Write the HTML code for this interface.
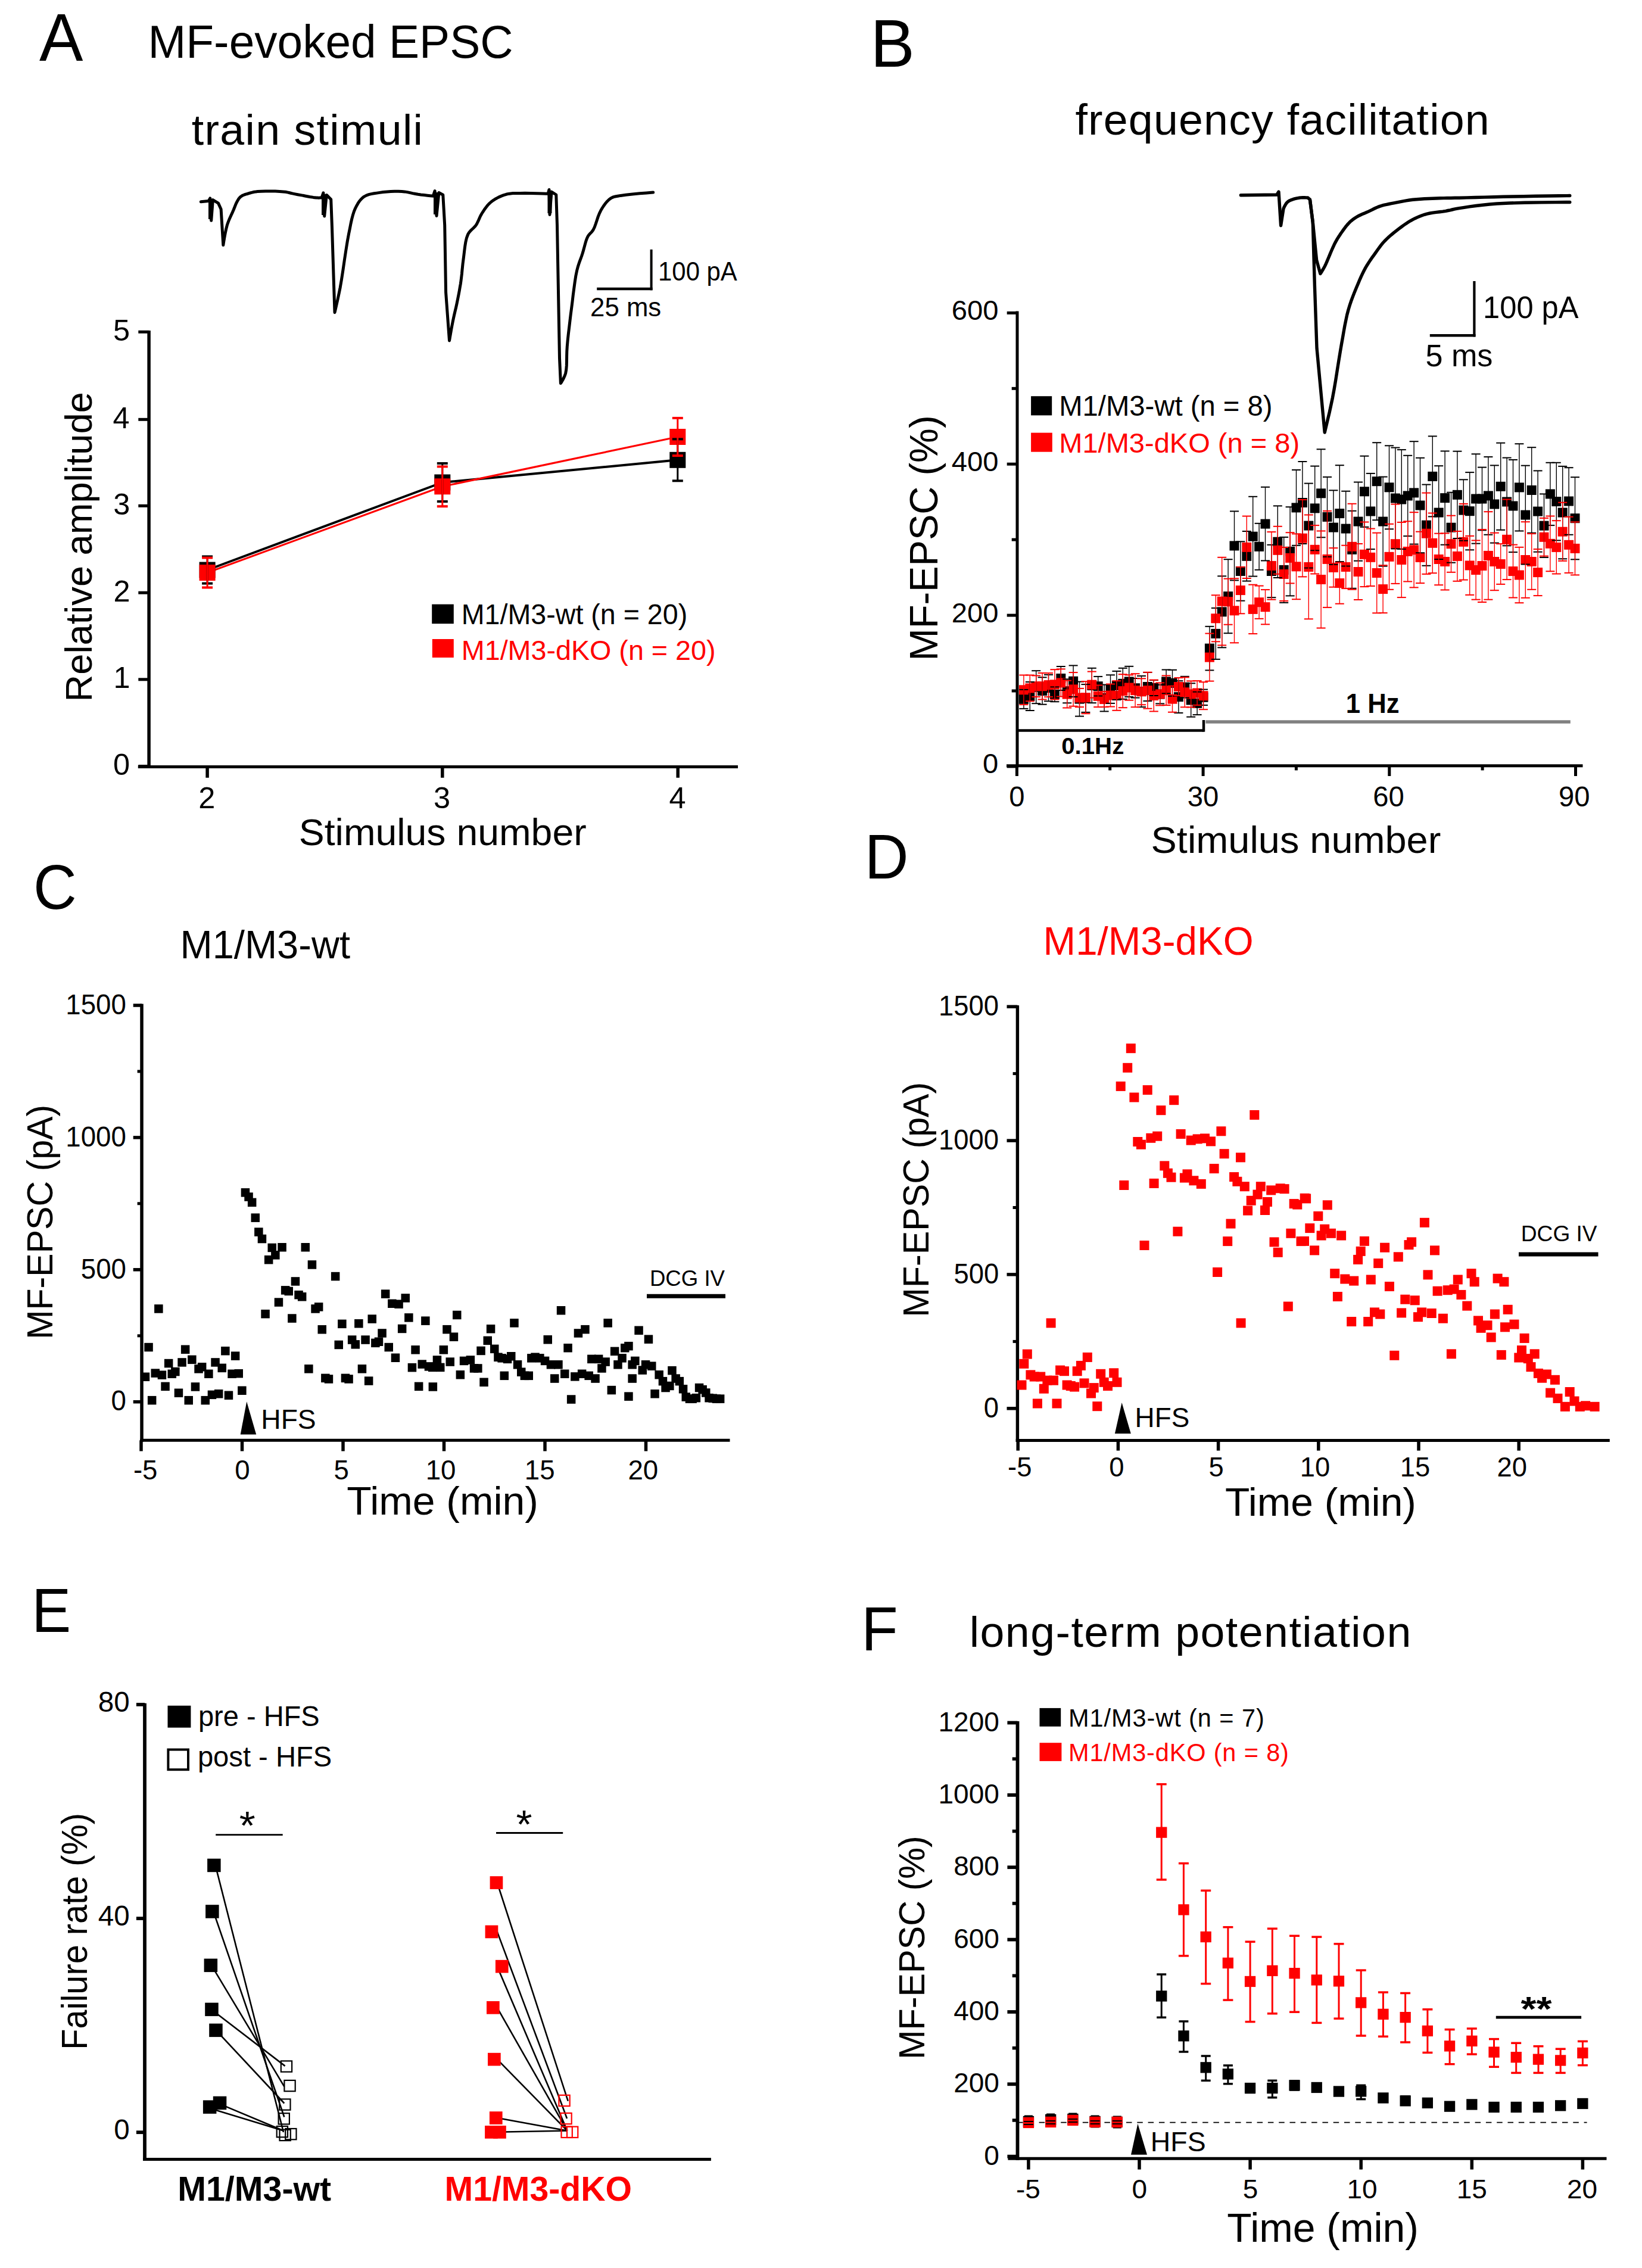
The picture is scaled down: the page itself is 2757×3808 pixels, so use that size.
<!DOCTYPE html>
<html><head><meta charset="utf-8"><style>
html,body{margin:0;padding:0;background:#fff;}
svg{display:block;}
text{font-family:"Liberation Sans",sans-serif;}
</style></head><body>
<svg width="2757" height="3808" viewBox="0 0 2757 3808">
<rect width="2757" height="3808" fill="#fff"/>
<text transform="translate(66.1,101.8) scale(1,1.025)" font-size="110.15" font-weight="normal" fill="#000">A</text>
<text transform="translate(248.5,96.7) scale(1,1.004)" font-size="76.62" font-weight="normal" fill="#000">MF-evoked EPSC</text>
<text transform="translate(321.7,242.8) scale(1,0.989)" font-size="73.50" font-weight="normal" fill="#000" letter-spacing="1.39">train stimuli</text>
<path d="M337.3,338.7 L350.1,337.5 L352.8,332.9 L354.7,370.3 L357.4,335.6 L366.5,341.1 L371.1,351.2 L374.8,411.5 L375.1,409.7 L375.8,405.1 L376.9,398.7 L378.2,391.5 L379.7,384.4 L381.2,378.6 L382.5,374.6 L383.9,370.9 L385.4,367.3 L387.0,363.8 L388.6,360.3 L390.3,356.6 L392.2,352.2 L394.1,347.5 L396.0,342.7 L398.2,338.2 L400.5,334.2 L403.1,331.1 L405.3,329.4 L407.6,328.0 L410.1,327.0 L412.6,326.2 L415.2,325.5 L417.7,324.7 L420.0,324.0 L422.2,323.4 L424.5,322.8 L426.8,322.3 L429.4,321.9 L432.3,321.6 L438.5,321.2 L445.9,320.9 L454.0,320.9 L462.1,321.1 L469.7,321.4 L476.2,321.9 L479.6,322.3 L482.6,322.9 L485.4,323.5 L488.2,324.2 L491.1,324.9 L494.4,325.6 L500.0,326.7 L506.6,327.9 L513.4,329.2 L520.1,330.5 L526.2,331.4 L531.0,332.0 L533.1,332.1 L535.1,332.2 L537.1,332.1 L538.6,332.1 L539.7,332.0 L540.1,332.0 L542.9,323.8 L544.7,363.0 L548.3,327.4 L555.7,334.7 L557.5,382.2 L562.0,524.7 L562.5,522.8 L563.7,517.5 L565.4,510.0 L567.4,501.0 L569.4,491.6 L571.2,482.7 L573.5,469.1 L575.9,453.6 L578.3,437.0 L580.8,420.5 L583.3,405.0 L585.8,391.4 L587.5,383.2 L589.0,375.4 L590.6,368.1 L592.4,361.3 L594.4,355.0 L596.8,349.3 L598.8,345.4 L600.9,341.7 L603.1,338.3 L605.6,335.2 L608.3,332.5 L611.4,330.1 L615.1,328.1 L619.1,326.7 L623.4,325.6 L628.0,324.8 L632.7,324.1 L637.5,323.4 L643.3,322.6 L649.6,322.0 L656.0,321.5 L662.4,321.2 L668.7,321.2 L674.6,321.4 L679.4,321.9 L684.1,322.6 L688.6,323.6 L693.0,324.6 L697.5,325.5 L701.9,326.3 L706.8,327.0 L712.3,327.6 L717.8,328.2 L722.5,328.7 L725.9,329.1 L727.2,329.2 L730.1,320.5 L733.0,362.4 L736.9,323.4 L743.8,327.3 L746.7,378.0 L748.6,491.0 L754.5,571.9 L754.8,570.3 L755.5,566.0 L756.6,559.9 L757.8,552.9 L759.1,545.9 L760.3,539.7 L761.5,533.9 L762.8,528.1 L764.2,522.2 L765.6,516.3 L766.9,510.4 L768.1,504.6 L769.2,499.0 L770.3,493.5 L771.3,488.1 L772.2,482.6 L773.2,477.1 L774.0,471.5 L774.7,465.8 L775.4,460.0 L775.9,454.2 L776.5,448.4 L777.1,442.5 L777.9,436.4 L778.8,429.2 L779.7,421.5 L780.7,413.7 L781.9,406.2 L783.5,399.3 L785.7,393.5 L787.6,390.3 L789.9,387.6 L792.3,385.3 L794.8,383.0 L797.2,380.6 L799.3,378.0 L801.1,374.9 L802.7,371.7 L804.1,368.4 L805.6,365.0 L807.2,361.7 L809.0,358.5 L811.2,355.1 L813.5,351.6 L816.0,348.2 L818.6,344.9 L821.5,341.8 L824.6,339.0 L828.3,336.3 L832.4,333.7 L836.7,331.4 L841.2,329.4 L845.6,327.7 L850.0,326.3 L853.8,325.4 L857.5,324.9 L861.2,324.6 L865.0,324.5 L869.0,324.5 L873.4,324.4 L881.3,324.3 L891.2,324.5 L901.6,324.7 L910.9,325.0 L917.5,325.2 L920.1,325.3 L920.1,325.3 L922.0,318.5 L923.0,360.4 L926.0,322.0 L933.8,327.0 L935.5,378.0 L939.5,601.6 L941.4,643.6 L941.9,642.9 L943.1,640.9 L944.8,638.0 L946.6,634.5 L948.3,630.7 L949.6,627.0 L950.7,620.9 L951.3,613.9 L951.5,606.2 L951.6,598.1 L951.8,589.8 L952.3,581.5 L953.2,571.5 L954.3,561.0 L955.6,550.2 L956.9,539.2 L958.2,528.3 L959.6,517.5 L961.0,506.5 L962.3,495.2 L963.8,483.8 L965.3,472.9 L966.9,462.7 L968.8,453.6 L970.2,448.3 L971.7,443.5 L973.2,439.1 L974.8,434.8 L976.4,430.5 L977.9,426.0 L979.4,421.0 L980.8,415.8 L982.2,410.6 L983.6,405.6 L985.2,401.0 L987.0,397.0 L988.4,394.8 L989.9,393.1 L991.4,391.5 L993.0,390.0 L994.5,388.2 L996.0,386.0 L998.2,381.5 L1000.2,376.0 L1002.2,370.0 L1004.2,363.9 L1006.5,358.1 L1009.0,353.0 L1011.4,349.0 L1013.9,345.2 L1016.6,341.5 L1019.4,338.2 L1022.4,335.3 L1025.4,333.0 L1027.9,331.6 L1030.3,330.6 L1032.9,330.0 L1035.6,329.5 L1038.6,329.0 L1042.0,328.4 L1050.5,327.2 L1061.9,325.9 L1074.2,324.8 L1085.4,323.9 L1093.5,323.2 L1096.7,323.0" fill="none" stroke="#000" stroke-width="5" stroke-linejoin="round" stroke-linecap="round" />
<line x1="353.5" y1="335.0" x2="353.5" y2="368.0" stroke="#000" stroke-width="7" />
<line x1="543.5" y1="326.0" x2="543.5" y2="361.0" stroke="#000" stroke-width="7" />
<line x1="731.5" y1="323.0" x2="731.5" y2="360.0" stroke="#000" stroke-width="7" />
<line x1="923.0" y1="321.0" x2="923.0" y2="358.0" stroke="#000" stroke-width="7" />
<line x1="1093.6" y1="418.9" x2="1093.6" y2="487.3" stroke="#000" stroke-width="4" />
<line x1="1002.2" y1="485.0" x2="1095.6" y2="485.0" stroke="#000" stroke-width="4.6" />
<text transform="translate(1105.1,471.2) scale(1,1.063)" font-size="41.87" font-weight="normal" fill="#000">100 pA</text>
<text transform="translate(991.1,531.2) scale(1,1.012)" font-size="43.75" font-weight="normal" fill="#000">25 ms</text>
<line x1="250.1" y1="555.0" x2="250.1" y2="1290.0" stroke="#000" stroke-width="5.5" />
<line x1="231.8" y1="1287.5" x2="1239.0" y2="1287.5" stroke="#000" stroke-width="5" />
<line x1="232.3" y1="557.3" x2="250.1" y2="557.3" stroke="#000" stroke-width="5" />
<text transform="translate(190.0,571.8) scale(1,1.000)" font-size="50.50" font-weight="normal" fill="#000">5</text>
<line x1="232.3" y1="704.3" x2="250.1" y2="704.3" stroke="#000" stroke-width="5" />
<text transform="translate(189.5,718.8) scale(1,1.000)" font-size="50.50" font-weight="normal" fill="#000">4</text>
<line x1="232.3" y1="849.3" x2="250.1" y2="849.3" stroke="#000" stroke-width="5" />
<text transform="translate(190.2,863.8) scale(1,1.000)" font-size="50.50" font-weight="normal" fill="#000">3</text>
<line x1="232.3" y1="995.2" x2="250.1" y2="995.2" stroke="#000" stroke-width="5" />
<text transform="translate(190.5,1009.7) scale(1,1.000)" font-size="50.50" font-weight="normal" fill="#000">2</text>
<line x1="232.3" y1="1140.8" x2="250.1" y2="1140.8" stroke="#000" stroke-width="5" />
<text transform="translate(190.5,1155.3) scale(1,1.000)" font-size="50.50" font-weight="normal" fill="#000">1</text>
<line x1="232.3" y1="1286.5" x2="250.1" y2="1286.5" stroke="#000" stroke-width="5" />
<text transform="translate(190.0,1301.0) scale(1,1.000)" font-size="50.50" font-weight="normal" fill="#000">0</text>
<line x1="348.1" y1="1287.5" x2="348.1" y2="1305.8" stroke="#000" stroke-width="5.5" />
<text transform="translate(333.3,1357.0) scale(1,1.000)" font-size="50.50" font-weight="normal" fill="#000">2</text>
<line x1="742.8" y1="1287.5" x2="742.8" y2="1305.8" stroke="#000" stroke-width="5.5" />
<text transform="translate(728.1,1357.0) scale(1,1.000)" font-size="50.50" font-weight="normal" fill="#000">3</text>
<line x1="1138.2" y1="1287.5" x2="1138.2" y2="1305.8" stroke="#000" stroke-width="5.5" />
<text transform="translate(1123.5,1357.0) scale(1,1.000)" font-size="50.50" font-weight="normal" fill="#000">4</text>
<text transform="translate(501.8,1418.7) scale(1,0.969)" font-size="64.35" font-weight="normal" fill="#000">Stimulus number</text>
<text transform="translate(153.7,1178.4) rotate(-90) scale(1,1.001)" font-size="63.25" font-weight="normal" fill="#000">Relative amplitude</text>
<path d="M348.1,957.0 L742.8,810.0 L1137.8,772.3" fill="none" stroke="#000" stroke-width="4" stroke-linejoin="round" stroke-linecap="round" />
<path d="M348.1,961.5 L742.8,816.8 L1137.8,733.5" fill="none" stroke="#ff0000" stroke-width="3.2" stroke-linejoin="round" stroke-linecap="round" />
<rect x="334.6" y="943.5" width="27.0" height="27.0" fill="#000"/>
<rect x="729.3" y="796.5" width="27.0" height="27.0" fill="#000"/>
<rect x="1124.3" y="758.8" width="27.0" height="27.0" fill="#000"/>
<rect x="334.6" y="948.0" width="27.0" height="27.0" fill="#ff0000"/>
<rect x="729.3" y="803.3" width="27.0" height="27.0" fill="#ff0000"/>
<rect x="1124.3" y="720.0" width="27.0" height="27.0" fill="#ff0000"/>
<line x1="348.1" y1="934.4" x2="348.1" y2="979.6" stroke="#000" stroke-width="3" />
<line x1="339.1" y1="934.4" x2="357.1" y2="934.4" stroke="#000" stroke-width="4" />
<line x1="339.1" y1="979.6" x2="357.1" y2="979.6" stroke="#000" stroke-width="4" />
<line x1="742.8" y1="778.0" x2="742.8" y2="842.0" stroke="#000" stroke-width="3" />
<line x1="733.8" y1="778.0" x2="751.8" y2="778.0" stroke="#000" stroke-width="4" />
<line x1="733.8" y1="842.0" x2="751.8" y2="842.0" stroke="#000" stroke-width="4" />
<line x1="1137.8" y1="737.3" x2="1137.8" y2="807.3" stroke="#000" stroke-width="3" />
<line x1="1128.8" y1="737.3" x2="1146.8" y2="737.3" stroke="#000" stroke-width="4" />
<line x1="1128.8" y1="807.3" x2="1146.8" y2="807.3" stroke="#000" stroke-width="4" />
<line x1="348.1" y1="936.5" x2="348.1" y2="986.5" stroke="#ff0000" stroke-width="3" />
<line x1="339.1" y1="936.5" x2="357.1" y2="936.5" stroke="#ff0000" stroke-width="4" />
<line x1="339.1" y1="986.5" x2="357.1" y2="986.5" stroke="#ff0000" stroke-width="4" />
<line x1="742.8" y1="783.4" x2="742.8" y2="850.2" stroke="#ff0000" stroke-width="3" />
<line x1="733.8" y1="783.4" x2="751.8" y2="783.4" stroke="#ff0000" stroke-width="4" />
<line x1="733.8" y1="850.2" x2="751.8" y2="850.2" stroke="#ff0000" stroke-width="4" />
<line x1="1137.8" y1="701.9" x2="1137.8" y2="765.1" stroke="#ff0000" stroke-width="3" />
<line x1="1128.8" y1="701.9" x2="1146.8" y2="701.9" stroke="#ff0000" stroke-width="4" />
<line x1="1128.8" y1="765.1" x2="1146.8" y2="765.1" stroke="#ff0000" stroke-width="4" />
<rect x="725.2" y="1014.6" width="36.6" height="32.6" fill="#000"/>
<text transform="translate(774.8,1048.1) scale(1,1.023)" font-size="46.62" font-weight="normal" fill="#000">M1/M3-wt (n = 20)</text>
<rect x="725.8" y="1073.0" width="36.0" height="31.1" fill="#ff0000"/>
<text transform="translate(774.8,1108.1) scale(1,0.993)" font-size="46.69" font-weight="normal" fill="#ff0000">M1/M3-dKO (n = 20)</text>
<text transform="translate(1461.6,112.1) scale(1,1.015)" font-size="111.40" font-weight="normal" fill="#000">B</text>
<text transform="translate(1805.5,225.6) scale(1,0.985)" font-size="73.50" font-weight="normal" fill="#000" letter-spacing="1.20">frequency facilitation</text>
<path d="M2083.4,327.8 L2143.8,327.0 L2147.0,322.0 L2150.6,378.7 L2155.0,350.4 L2155.3,349.8 L2156.0,348.1 L2157.2,345.8 L2158.6,343.2 L2160.2,340.9 L2162.0,339.0 L2164.5,337.3 L2167.5,335.9 L2170.8,334.7 L2174.2,333.7 L2177.6,332.9 L2180.8,332.3 L2183.8,331.9 L2187.1,331.8 L2190.4,331.8 L2193.2,331.9 L2195.2,332.0 L2196.0,332.0 L2196.0,332.0 L2199.5,335.3 L2204.3,373.3 L2210.6,436.7 L2216.9,459.6 L2217.3,459.0 L2218.4,457.3 L2219.9,454.8 L2221.6,452.0 L2223.3,449.0 L2224.8,446.2 L2226.4,442.8 L2228.0,439.1 L2229.6,435.3 L2231.2,431.4 L2232.8,427.6 L2234.3,424.0 L2235.6,421.0 L2236.9,418.0 L2238.2,415.1 L2239.5,412.3 L2240.8,409.4 L2242.3,406.6 L2244.0,403.6 L2245.7,400.7 L2247.5,397.8 L2249.4,394.9 L2251.3,392.0 L2253.3,389.2 L2255.3,386.4 L2257.3,383.6 L2259.4,380.8 L2261.6,378.1 L2263.8,375.6 L2266.0,373.3 L2268.0,371.4 L2270.0,369.8 L2272.0,368.2 L2274.1,366.7 L2276.4,365.2 L2278.7,363.8 L2281.6,362.2 L2284.7,360.7 L2287.9,359.3 L2291.2,357.9 L2294.5,356.5 L2297.7,355.1 L2300.8,353.6 L2303.9,352.1 L2307.0,350.5 L2310.2,349.0 L2313.4,347.6 L2316.7,346.4 L2320.4,345.2 L2324.2,344.2 L2328.1,343.4 L2332.1,342.5 L2336.2,341.7 L2340.4,340.9 L2345.4,339.9 L2350.5,338.9 L2355.7,337.8 L2361.1,336.9 L2366.5,336.0 L2372.1,335.3 L2378.4,334.7 L2385.0,334.2 L2391.6,333.8 L2398.4,333.5 L2405.1,333.2 L2411.7,333.0 L2417.9,332.8 L2423.9,332.6 L2429.9,332.5 L2436.1,332.5 L2442.7,332.3 L2450.0,332.2 L2462.8,331.9 L2477.1,331.5 L2492.5,331.1 L2508.4,330.7 L2524.4,330.3 L2540.0,330.0 L2558.0,329.7 L2578.8,329.3 L2599.7,329.0 L2617.9,328.7 L2630.9,328.6 L2635.8,328.5" fill="none" stroke="#000" stroke-width="5.4" stroke-linejoin="round" stroke-linecap="round" />
<path d="M2199.5,335.3 L2204.3,373.3 L2207.4,480.0 L2211.0,584.5 L2224.2,726.0 L2224.9,723.2 L2226.7,715.7 L2229.2,704.9 L2232.2,692.4 L2235.0,679.4 L2237.5,667.6 L2240.1,653.4 L2242.7,638.1 L2245.2,622.2 L2247.7,606.4 L2250.2,591.1 L2252.6,577.0 L2254.5,566.6 L2256.2,556.6 L2257.9,547.0 L2259.8,537.7 L2261.7,528.7 L2264.0,520.0 L2266.2,512.8 L2268.5,505.8 L2271.0,499.1 L2273.5,492.6 L2276.1,486.2 L2278.7,480.0 L2281.0,474.6 L2283.2,469.3 L2285.5,464.1 L2287.9,459.1 L2290.3,454.2 L2292.9,449.4 L2295.4,445.2 L2298.0,441.1 L2300.6,437.1 L2303.3,433.2 L2306.1,429.4 L2308.8,425.6 L2311.3,422.0 L2313.8,418.5 L2316.3,415.1 L2318.9,411.7 L2321.6,408.3 L2324.6,405.0 L2328.2,401.4 L2332.0,397.8 L2336.0,394.3 L2340.1,390.9 L2344.3,387.6 L2348.4,384.4 L2352.3,381.5 L2356.2,378.6 L2360.1,375.9 L2364.1,373.3 L2368.1,370.8 L2372.1,368.6 L2375.9,366.7 L2379.8,364.9 L2383.7,363.2 L2387.6,361.7 L2391.7,360.3 L2395.9,359.1 L2400.9,358.0 L2406.2,357.1 L2411.7,356.4 L2417.2,355.7 L2422.5,355.1 L2427.5,354.3 L2431.3,353.5 L2434.9,352.8 L2438.3,352.0 L2441.8,351.2 L2445.6,350.4 L2450.0,349.6 L2458.4,348.3 L2467.8,346.9 L2478.2,345.5 L2489.3,344.2 L2500.9,343.0 L2513.0,342.0 L2533.9,341.0 L2560.0,340.3 L2587.2,339.9 L2611.5,339.6 L2629.1,339.5 L2635.8,339.5" fill="none" stroke="#000" stroke-width="5.4" stroke-linejoin="round" stroke-linecap="round" />
<line x1="2475.4" y1="472.0" x2="2475.4" y2="565.4" stroke="#000" stroke-width="4.2" />
<line x1="2400.8" y1="563.2" x2="2477.5" y2="563.2" stroke="#000" stroke-width="4.4" />
<text transform="translate(2490.1,534.2) scale(1,1.022)" font-size="50.63" font-weight="normal" fill="#000">100 pA</text>
<text transform="translate(2393.4,615.1) scale(1,0.984)" font-size="52.15" font-weight="normal" fill="#000">5 ms</text>
<line x1="1708.0" y1="522.5" x2="1708.0" y2="1288.3" stroke="#000" stroke-width="5" />
<line x1="1690.0" y1="1285.8" x2="2657.5" y2="1285.8" stroke="#000" stroke-width="5" />
<line x1="1690.7" y1="1286.9" x2="1708.0" y2="1286.9" stroke="#000" stroke-width="5" />
<text transform="translate(1650.1,1298.4) scale(1,0.999)" font-size="47.20" font-weight="normal" fill="#000">0</text>
<line x1="1690.7" y1="1033.1" x2="1708.0" y2="1033.1" stroke="#000" stroke-width="5" />
<text transform="translate(1597.7,1044.6) scale(1,0.999)" font-size="47.20" font-weight="normal" fill="#000">200</text>
<line x1="1690.7" y1="779.2" x2="1708.0" y2="779.2" stroke="#000" stroke-width="5" />
<text transform="translate(1597.7,790.7) scale(1,0.999)" font-size="47.20" font-weight="normal" fill="#000">400</text>
<line x1="1690.7" y1="525.4" x2="1708.0" y2="525.4" stroke="#000" stroke-width="5" />
<text transform="translate(1597.7,536.9) scale(1,0.999)" font-size="47.20" font-weight="normal" fill="#000">600</text>
<line x1="1698.7" y1="1160.0" x2="1708.0" y2="1160.0" stroke="#000" stroke-width="5" />
<line x1="1698.7" y1="906.1" x2="1708.0" y2="906.1" stroke="#000" stroke-width="5" />
<line x1="1698.7" y1="652.3" x2="1708.0" y2="652.3" stroke="#000" stroke-width="5" />
<line x1="1707.4" y1="1285.8" x2="1707.4" y2="1303.0" stroke="#000" stroke-width="5" />
<text transform="translate(1694.3,1354.2) scale(1,1.000)" font-size="47.20" font-weight="normal" fill="#000">0</text>
<line x1="2020.1" y1="1285.8" x2="2020.1" y2="1303.0" stroke="#000" stroke-width="5" />
<text transform="translate(1993.8,1354.2) scale(1,1.000)" font-size="47.20" font-weight="normal" fill="#000">30</text>
<line x1="2332.8" y1="1285.8" x2="2332.8" y2="1303.0" stroke="#000" stroke-width="5" />
<text transform="translate(2305.3,1354.2) scale(1,1.000)" font-size="47.20" font-weight="normal" fill="#000">60</text>
<line x1="2645.5" y1="1285.8" x2="2645.5" y2="1303.0" stroke="#000" stroke-width="5" />
<text transform="translate(2616.9,1354.2) scale(1,1.000)" font-size="47.20" font-weight="normal" fill="#000">90</text>
<line x1="1863.7" y1="1285.8" x2="1863.7" y2="1293.4" stroke="#000" stroke-width="5" />
<line x1="2176.4" y1="1285.8" x2="2176.4" y2="1293.4" stroke="#000" stroke-width="5" />
<line x1="2489.1" y1="1285.8" x2="2489.1" y2="1293.4" stroke="#000" stroke-width="5" />
<text transform="translate(1932.6,1432.2) scale(1,0.959)" font-size="64.87" font-weight="normal" fill="#000">Stimulus number</text>
<text transform="translate(1574.3,1109.6) rotate(-90) scale(1,1.028)" font-size="65.11" font-weight="normal" fill="#000">MF-EPSC (%)</text>
<line x1="1708.0" y1="1226.5" x2="2021.0" y2="1226.5" stroke="#000" stroke-width="4.5" />
<line x1="2021.0" y1="1209.0" x2="2021.0" y2="1228.7" stroke="#000" stroke-width="4.5" />
<text transform="translate(1782.2,1266.0) scale(1,0.983)" font-size="40.24" font-weight="bold" fill="#000">0.1Hz</text>
<line x1="2024.4" y1="1211.9" x2="2636.8" y2="1211.9" stroke="#808080" stroke-width="5.5" />
<text transform="translate(2259.8,1196.6) scale(1,1.045)" font-size="43.68" font-weight="bold" fill="#000">1 Hz</text>
<rect x="1710.9" y="1165.9" width="16.0" height="16.0" fill="#000"/>
<rect x="1721.3" y="1161.0" width="16.0" height="16.0" fill="#000"/>
<rect x="1731.7" y="1145.7" width="16.0" height="16.0" fill="#000"/>
<rect x="1742.1" y="1152.0" width="16.0" height="16.0" fill="#000"/>
<rect x="1752.5" y="1147.1" width="16.0" height="16.0" fill="#000"/>
<rect x="1762.9" y="1157.8" width="16.0" height="16.0" fill="#000"/>
<rect x="1773.3" y="1131.0" width="16.0" height="16.0" fill="#000"/>
<rect x="1783.7" y="1152.3" width="16.0" height="16.0" fill="#000"/>
<rect x="1794.1" y="1135.7" width="16.0" height="16.0" fill="#000"/>
<rect x="1804.5" y="1165.6" width="16.0" height="16.0" fill="#000"/>
<rect x="1814.9" y="1164.5" width="16.0" height="16.0" fill="#000"/>
<rect x="1825.3" y="1143.0" width="16.0" height="16.0" fill="#000"/>
<rect x="1835.7" y="1144.2" width="16.0" height="16.0" fill="#000"/>
<rect x="1846.1" y="1164.0" width="16.0" height="16.0" fill="#000"/>
<rect x="1856.5" y="1149.1" width="16.0" height="16.0" fill="#000"/>
<rect x="1866.9" y="1142.9" width="16.0" height="16.0" fill="#000"/>
<rect x="1877.3" y="1139.8" width="16.0" height="16.0" fill="#000"/>
<rect x="1887.7" y="1136.4" width="16.0" height="16.0" fill="#000"/>
<rect x="1898.1" y="1147.3" width="16.0" height="16.0" fill="#000"/>
<rect x="1908.5" y="1153.0" width="16.0" height="16.0" fill="#000"/>
<rect x="1918.9" y="1145.0" width="16.0" height="16.0" fill="#000"/>
<rect x="1929.3" y="1147.0" width="16.0" height="16.0" fill="#000"/>
<rect x="1939.7" y="1157.6" width="16.0" height="16.0" fill="#000"/>
<rect x="1950.1" y="1136.4" width="16.0" height="16.0" fill="#000"/>
<rect x="1960.5" y="1138.8" width="16.0" height="16.0" fill="#000"/>
<rect x="1970.9" y="1162.1" width="16.0" height="16.0" fill="#000"/>
<rect x="1981.3" y="1145.7" width="16.0" height="16.0" fill="#000"/>
<rect x="1991.7" y="1167.5" width="16.0" height="16.0" fill="#000"/>
<rect x="2002.1" y="1172.9" width="16.0" height="16.0" fill="#000"/>
<rect x="2012.5" y="1162.8" width="16.0" height="16.0" fill="#000"/>
<rect x="2022.9" y="1080.6" width="16.0" height="16.0" fill="#000"/>
<rect x="2033.3" y="1055.9" width="16.0" height="16.0" fill="#000"/>
<rect x="2043.7" y="1019.3" width="16.0" height="16.0" fill="#000"/>
<rect x="2054.1" y="993.2" width="16.0" height="16.0" fill="#000"/>
<rect x="2064.5" y="908.4" width="16.0" height="16.0" fill="#000"/>
<rect x="2074.9" y="951.0" width="16.0" height="16.0" fill="#000"/>
<rect x="2085.3" y="925.8" width="16.0" height="16.0" fill="#000"/>
<rect x="2095.7" y="892.7" width="16.0" height="16.0" fill="#000"/>
<rect x="2106.1" y="909.8" width="16.0" height="16.0" fill="#000"/>
<rect x="2116.5" y="871.6" width="16.0" height="16.0" fill="#000"/>
<rect x="2126.9" y="951.0" width="16.0" height="16.0" fill="#000"/>
<rect x="2137.3" y="901.7" width="16.0" height="16.0" fill="#000"/>
<rect x="2147.7" y="948.9" width="16.0" height="16.0" fill="#000"/>
<rect x="2158.1" y="917.8" width="16.0" height="16.0" fill="#000"/>
<rect x="2168.5" y="844.4" width="16.0" height="16.0" fill="#000"/>
<rect x="2178.9" y="836.0" width="16.0" height="16.0" fill="#000"/>
<rect x="2189.3" y="874.6" width="16.0" height="16.0" fill="#000"/>
<rect x="2199.7" y="845.4" width="16.0" height="16.0" fill="#000"/>
<rect x="2210.1" y="820.3" width="16.0" height="16.0" fill="#000"/>
<rect x="2220.5" y="859.9" width="16.0" height="16.0" fill="#000"/>
<rect x="2230.9" y="877.6" width="16.0" height="16.0" fill="#000"/>
<rect x="2241.3" y="854.1" width="16.0" height="16.0" fill="#000"/>
<rect x="2251.7" y="879.6" width="16.0" height="16.0" fill="#000"/>
<rect x="2262.1" y="914.8" width="16.0" height="16.0" fill="#000"/>
<rect x="2272.5" y="867.6" width="16.0" height="16.0" fill="#000"/>
<rect x="2282.9" y="817.3" width="16.0" height="16.0" fill="#000"/>
<rect x="2293.3" y="850.5" width="16.0" height="16.0" fill="#000"/>
<rect x="2303.7" y="800.2" width="16.0" height="16.0" fill="#000"/>
<rect x="2314.1" y="867.6" width="16.0" height="16.0" fill="#000"/>
<rect x="2324.5" y="810.3" width="16.0" height="16.0" fill="#000"/>
<rect x="2334.9" y="828.5" width="16.0" height="16.0" fill="#000"/>
<rect x="2345.3" y="830.5" width="16.0" height="16.0" fill="#000"/>
<rect x="2355.7" y="824.4" width="16.0" height="16.0" fill="#000"/>
<rect x="2366.1" y="819.4" width="16.0" height="16.0" fill="#000"/>
<rect x="2376.5" y="840.5" width="16.0" height="16.0" fill="#000"/>
<rect x="2386.9" y="873.7" width="16.0" height="16.0" fill="#000"/>
<rect x="2397.3" y="791.9" width="16.0" height="16.0" fill="#000"/>
<rect x="2407.7" y="852.6" width="16.0" height="16.0" fill="#000"/>
<rect x="2418.1" y="828.1" width="16.0" height="16.0" fill="#000"/>
<rect x="2428.5" y="877.7" width="16.0" height="16.0" fill="#000"/>
<rect x="2438.9" y="822.8" width="16.0" height="16.0" fill="#000"/>
<rect x="2449.3" y="848.6" width="16.0" height="16.0" fill="#000"/>
<rect x="2459.7" y="850.2" width="16.0" height="16.0" fill="#000"/>
<rect x="2470.1" y="829.5" width="16.0" height="16.0" fill="#000"/>
<rect x="2480.5" y="829.5" width="16.0" height="16.0" fill="#000"/>
<rect x="2490.9" y="824.4" width="16.0" height="16.0" fill="#000"/>
<rect x="2501.3" y="838.5" width="16.0" height="16.0" fill="#000"/>
<rect x="2511.7" y="808.8" width="16.0" height="16.0" fill="#000"/>
<rect x="2522.1" y="834.5" width="16.0" height="16.0" fill="#000"/>
<rect x="2532.5" y="841.5" width="16.0" height="16.0" fill="#000"/>
<rect x="2542.9" y="810.4" width="16.0" height="16.0" fill="#000"/>
<rect x="2553.3" y="856.6" width="16.0" height="16.0" fill="#000"/>
<rect x="2563.7" y="815.0" width="16.0" height="16.0" fill="#000"/>
<rect x="2574.1" y="850.6" width="16.0" height="16.0" fill="#000"/>
<rect x="2584.5" y="874.7" width="16.0" height="16.0" fill="#000"/>
<rect x="2594.9" y="821.4" width="16.0" height="16.0" fill="#000"/>
<rect x="2605.3" y="834.1" width="16.0" height="16.0" fill="#000"/>
<rect x="2615.7" y="852.6" width="16.0" height="16.0" fill="#000"/>
<rect x="2626.1" y="833.5" width="16.0" height="16.0" fill="#000"/>
<rect x="2636.5" y="862.2" width="16.0" height="16.0" fill="#000"/>
<rect x="1710.9" y="1150.3" width="16.0" height="16.0" fill="#ff0000"/>
<rect x="1721.3" y="1147.4" width="16.0" height="16.0" fill="#ff0000"/>
<rect x="1731.7" y="1144.2" width="16.0" height="16.0" fill="#ff0000"/>
<rect x="1742.1" y="1144.2" width="16.0" height="16.0" fill="#ff0000"/>
<rect x="1752.5" y="1142.1" width="16.0" height="16.0" fill="#ff0000"/>
<rect x="1762.9" y="1141.3" width="16.0" height="16.0" fill="#ff0000"/>
<rect x="1773.3" y="1138.4" width="16.0" height="16.0" fill="#ff0000"/>
<rect x="1783.7" y="1157.6" width="16.0" height="16.0" fill="#ff0000"/>
<rect x="1794.1" y="1149.4" width="16.0" height="16.0" fill="#ff0000"/>
<rect x="1804.5" y="1163.5" width="16.0" height="16.0" fill="#ff0000"/>
<rect x="1814.9" y="1163.2" width="16.0" height="16.0" fill="#ff0000"/>
<rect x="1825.3" y="1141.6" width="16.0" height="16.0" fill="#ff0000"/>
<rect x="1835.7" y="1160.8" width="16.0" height="16.0" fill="#ff0000"/>
<rect x="1846.1" y="1166.1" width="16.0" height="16.0" fill="#ff0000"/>
<rect x="1856.5" y="1159.5" width="16.0" height="16.0" fill="#ff0000"/>
<rect x="1866.9" y="1160.0" width="16.0" height="16.0" fill="#ff0000"/>
<rect x="1877.3" y="1152.2" width="16.0" height="16.0" fill="#ff0000"/>
<rect x="1887.7" y="1146.5" width="16.0" height="16.0" fill="#ff0000"/>
<rect x="1898.1" y="1151.2" width="16.0" height="16.0" fill="#ff0000"/>
<rect x="1908.5" y="1153.3" width="16.0" height="16.0" fill="#ff0000"/>
<rect x="1918.9" y="1151.2" width="16.0" height="16.0" fill="#ff0000"/>
<rect x="1929.3" y="1160.0" width="16.0" height="16.0" fill="#ff0000"/>
<rect x="1939.7" y="1157.4" width="16.0" height="16.0" fill="#ff0000"/>
<rect x="1950.1" y="1151.2" width="16.0" height="16.0" fill="#ff0000"/>
<rect x="1960.5" y="1165.7" width="16.0" height="16.0" fill="#ff0000"/>
<rect x="1970.9" y="1145.0" width="16.0" height="16.0" fill="#ff0000"/>
<rect x="1981.3" y="1154.3" width="16.0" height="16.0" fill="#ff0000"/>
<rect x="1991.7" y="1157.4" width="16.0" height="16.0" fill="#ff0000"/>
<rect x="2002.1" y="1155.5" width="16.0" height="16.0" fill="#ff0000"/>
<rect x="2012.5" y="1160.2" width="16.0" height="16.0" fill="#ff0000"/>
<rect x="2022.9" y="1095.6" width="16.0" height="16.0" fill="#ff0000"/>
<rect x="2033.3" y="1030.3" width="16.0" height="16.0" fill="#ff0000"/>
<rect x="2043.7" y="1001.6" width="16.0" height="16.0" fill="#ff0000"/>
<rect x="2054.1" y="1002.2" width="16.0" height="16.0" fill="#ff0000"/>
<rect x="2064.5" y="1017.3" width="16.0" height="16.0" fill="#ff0000"/>
<rect x="2074.9" y="983.1" width="16.0" height="16.0" fill="#ff0000"/>
<rect x="2085.3" y="910.8" width="16.0" height="16.0" fill="#ff0000"/>
<rect x="2095.7" y="1014.9" width="16.0" height="16.0" fill="#ff0000"/>
<rect x="2106.1" y="1003.2" width="16.0" height="16.0" fill="#ff0000"/>
<rect x="2116.5" y="1011.2" width="16.0" height="16.0" fill="#ff0000"/>
<rect x="2126.9" y="941.9" width="16.0" height="16.0" fill="#ff0000"/>
<rect x="2137.3" y="915.8" width="16.0" height="16.0" fill="#ff0000"/>
<rect x="2147.7" y="956.0" width="16.0" height="16.0" fill="#ff0000"/>
<rect x="2158.1" y="928.8" width="16.0" height="16.0" fill="#ff0000"/>
<rect x="2168.5" y="943.3" width="16.0" height="16.0" fill="#ff0000"/>
<rect x="2178.9" y="895.7" width="16.0" height="16.0" fill="#ff0000"/>
<rect x="2189.3" y="943.9" width="16.0" height="16.0" fill="#ff0000"/>
<rect x="2199.7" y="914.8" width="16.0" height="16.0" fill="#ff0000"/>
<rect x="2210.1" y="965.0" width="16.0" height="16.0" fill="#ff0000"/>
<rect x="2220.5" y="930.9" width="16.0" height="16.0" fill="#ff0000"/>
<rect x="2230.9" y="944.9" width="16.0" height="16.0" fill="#ff0000"/>
<rect x="2241.3" y="971.1" width="16.0" height="16.0" fill="#ff0000"/>
<rect x="2251.7" y="943.9" width="16.0" height="16.0" fill="#ff0000"/>
<rect x="2262.1" y="909.8" width="16.0" height="16.0" fill="#ff0000"/>
<rect x="2272.5" y="952.0" width="16.0" height="16.0" fill="#ff0000"/>
<rect x="2282.9" y="922.8" width="16.0" height="16.0" fill="#ff0000"/>
<rect x="2293.3" y="927.8" width="16.0" height="16.0" fill="#ff0000"/>
<rect x="2303.7" y="954.0" width="16.0" height="16.0" fill="#ff0000"/>
<rect x="2314.1" y="981.1" width="16.0" height="16.0" fill="#ff0000"/>
<rect x="2324.5" y="926.8" width="16.0" height="16.0" fill="#ff0000"/>
<rect x="2334.9" y="905.2" width="16.0" height="16.0" fill="#ff0000"/>
<rect x="2345.3" y="932.0" width="16.0" height="16.0" fill="#ff0000"/>
<rect x="2355.7" y="917.9" width="16.0" height="16.0" fill="#ff0000"/>
<rect x="2366.1" y="915.3" width="16.0" height="16.0" fill="#ff0000"/>
<rect x="2376.5" y="927.9" width="16.0" height="16.0" fill="#ff0000"/>
<rect x="2386.9" y="887.7" width="16.0" height="16.0" fill="#ff0000"/>
<rect x="2397.3" y="903.8" width="16.0" height="16.0" fill="#ff0000"/>
<rect x="2407.7" y="931.0" width="16.0" height="16.0" fill="#ff0000"/>
<rect x="2418.1" y="935.0" width="16.0" height="16.0" fill="#ff0000"/>
<rect x="2428.5" y="905.2" width="16.0" height="16.0" fill="#ff0000"/>
<rect x="2438.9" y="925.9" width="16.0" height="16.0" fill="#ff0000"/>
<rect x="2449.3" y="901.8" width="16.0" height="16.0" fill="#ff0000"/>
<rect x="2459.7" y="941.4" width="16.0" height="16.0" fill="#ff0000"/>
<rect x="2470.1" y="949.0" width="16.0" height="16.0" fill="#ff0000"/>
<rect x="2480.5" y="942.0" width="16.0" height="16.0" fill="#ff0000"/>
<rect x="2490.9" y="924.9" width="16.0" height="16.0" fill="#ff0000"/>
<rect x="2501.3" y="935.0" width="16.0" height="16.0" fill="#ff0000"/>
<rect x="2511.7" y="939.0" width="16.0" height="16.0" fill="#ff0000"/>
<rect x="2522.1" y="897.8" width="16.0" height="16.0" fill="#ff0000"/>
<rect x="2532.5" y="951.1" width="16.0" height="16.0" fill="#ff0000"/>
<rect x="2542.9" y="957.5" width="16.0" height="16.0" fill="#ff0000"/>
<rect x="2553.3" y="932.0" width="16.0" height="16.0" fill="#ff0000"/>
<rect x="2563.7" y="935.0" width="16.0" height="16.0" fill="#ff0000"/>
<rect x="2574.1" y="953.1" width="16.0" height="16.0" fill="#ff0000"/>
<rect x="2584.5" y="893.8" width="16.0" height="16.0" fill="#ff0000"/>
<rect x="2594.9" y="904.8" width="16.0" height="16.0" fill="#ff0000"/>
<rect x="2605.3" y="910.9" width="16.0" height="16.0" fill="#ff0000"/>
<rect x="2615.7" y="884.7" width="16.0" height="16.0" fill="#ff0000"/>
<rect x="2626.1" y="906.8" width="16.0" height="16.0" fill="#ff0000"/>
<rect x="2636.5" y="912.9" width="16.0" height="16.0" fill="#ff0000"/>
<line x1="1718.9" y1="1157.9" x2="1718.9" y2="1189.9" stroke="#000" stroke-width="1.4" />
<line x1="1711.4" y1="1157.9" x2="1726.4" y2="1157.9" stroke="#000" stroke-width="2.0" />
<line x1="1711.4" y1="1189.9" x2="1726.4" y2="1189.9" stroke="#000" stroke-width="2.0" />
<line x1="1729.3" y1="1145.0" x2="1729.3" y2="1193.0" stroke="#000" stroke-width="1.4" />
<line x1="1721.8" y1="1145.0" x2="1736.8" y2="1145.0" stroke="#000" stroke-width="2.0" />
<line x1="1721.8" y1="1193.0" x2="1736.8" y2="1193.0" stroke="#000" stroke-width="2.0" />
<line x1="1739.7" y1="1126.2" x2="1739.7" y2="1181.2" stroke="#000" stroke-width="1.4" />
<line x1="1732.2" y1="1126.2" x2="1747.2" y2="1126.2" stroke="#000" stroke-width="2.0" />
<line x1="1732.2" y1="1181.2" x2="1747.2" y2="1181.2" stroke="#000" stroke-width="2.0" />
<line x1="1750.1" y1="1137.3" x2="1750.1" y2="1182.7" stroke="#000" stroke-width="1.4" />
<line x1="1742.6" y1="1137.3" x2="1757.6" y2="1137.3" stroke="#000" stroke-width="2.0" />
<line x1="1742.6" y1="1182.7" x2="1757.6" y2="1182.7" stroke="#000" stroke-width="2.0" />
<line x1="1760.5" y1="1132.9" x2="1760.5" y2="1177.3" stroke="#000" stroke-width="1.4" />
<line x1="1753.0" y1="1132.9" x2="1768.0" y2="1132.9" stroke="#000" stroke-width="2.0" />
<line x1="1753.0" y1="1177.3" x2="1768.0" y2="1177.3" stroke="#000" stroke-width="2.0" />
<line x1="1770.9" y1="1153.4" x2="1770.9" y2="1178.2" stroke="#000" stroke-width="1.4" />
<line x1="1763.4" y1="1153.4" x2="1778.4" y2="1153.4" stroke="#000" stroke-width="2.0" />
<line x1="1763.4" y1="1178.2" x2="1778.4" y2="1178.2" stroke="#000" stroke-width="2.0" />
<line x1="1781.3" y1="1119.0" x2="1781.3" y2="1159.0" stroke="#000" stroke-width="1.4" />
<line x1="1773.8" y1="1119.0" x2="1788.8" y2="1119.0" stroke="#000" stroke-width="2.0" />
<line x1="1773.8" y1="1159.0" x2="1788.8" y2="1159.0" stroke="#000" stroke-width="2.0" />
<line x1="1791.7" y1="1140.3" x2="1791.7" y2="1180.3" stroke="#000" stroke-width="1.4" />
<line x1="1784.2" y1="1140.3" x2="1799.2" y2="1140.3" stroke="#000" stroke-width="2.0" />
<line x1="1784.2" y1="1180.3" x2="1799.2" y2="1180.3" stroke="#000" stroke-width="2.0" />
<line x1="1802.1" y1="1117.4" x2="1802.1" y2="1170.0" stroke="#000" stroke-width="1.4" />
<line x1="1794.6" y1="1117.4" x2="1809.6" y2="1117.4" stroke="#000" stroke-width="2.0" />
<line x1="1794.6" y1="1170.0" x2="1809.6" y2="1170.0" stroke="#000" stroke-width="2.0" />
<line x1="1812.5" y1="1144.6" x2="1812.5" y2="1202.6" stroke="#000" stroke-width="1.4" />
<line x1="1805.0" y1="1144.6" x2="1820.0" y2="1144.6" stroke="#000" stroke-width="2.0" />
<line x1="1805.0" y1="1202.6" x2="1820.0" y2="1202.6" stroke="#000" stroke-width="2.0" />
<line x1="1822.9" y1="1149.1" x2="1822.9" y2="1195.9" stroke="#000" stroke-width="1.4" />
<line x1="1815.4" y1="1149.1" x2="1830.4" y2="1149.1" stroke="#000" stroke-width="2.0" />
<line x1="1815.4" y1="1195.9" x2="1830.4" y2="1195.9" stroke="#000" stroke-width="2.0" />
<line x1="1833.3" y1="1121.8" x2="1833.3" y2="1180.2" stroke="#000" stroke-width="1.4" />
<line x1="1825.8" y1="1121.8" x2="1840.8" y2="1121.8" stroke="#000" stroke-width="2.0" />
<line x1="1825.8" y1="1180.2" x2="1840.8" y2="1180.2" stroke="#000" stroke-width="2.0" />
<line x1="1843.7" y1="1135.9" x2="1843.7" y2="1168.5" stroke="#000" stroke-width="1.4" />
<line x1="1836.2" y1="1135.9" x2="1851.2" y2="1135.9" stroke="#000" stroke-width="2.0" />
<line x1="1836.2" y1="1168.5" x2="1851.2" y2="1168.5" stroke="#000" stroke-width="2.0" />
<line x1="1854.1" y1="1149.6" x2="1854.1" y2="1194.4" stroke="#000" stroke-width="1.4" />
<line x1="1846.6" y1="1149.6" x2="1861.6" y2="1149.6" stroke="#000" stroke-width="2.0" />
<line x1="1846.6" y1="1194.4" x2="1861.6" y2="1194.4" stroke="#000" stroke-width="2.0" />
<line x1="1864.5" y1="1133.3" x2="1864.5" y2="1180.9" stroke="#000" stroke-width="1.4" />
<line x1="1857.0" y1="1133.3" x2="1872.0" y2="1133.3" stroke="#000" stroke-width="2.0" />
<line x1="1857.0" y1="1180.9" x2="1872.0" y2="1180.9" stroke="#000" stroke-width="2.0" />
<line x1="1874.9" y1="1126.9" x2="1874.9" y2="1174.9" stroke="#000" stroke-width="1.4" />
<line x1="1867.4" y1="1126.9" x2="1882.4" y2="1126.9" stroke="#000" stroke-width="2.0" />
<line x1="1867.4" y1="1174.9" x2="1882.4" y2="1174.9" stroke="#000" stroke-width="2.0" />
<line x1="1885.3" y1="1121.8" x2="1885.3" y2="1173.8" stroke="#000" stroke-width="1.4" />
<line x1="1877.8" y1="1121.8" x2="1892.8" y2="1121.8" stroke="#000" stroke-width="2.0" />
<line x1="1877.8" y1="1173.8" x2="1892.8" y2="1173.8" stroke="#000" stroke-width="2.0" />
<line x1="1895.7" y1="1118.8" x2="1895.7" y2="1170.0" stroke="#000" stroke-width="1.4" />
<line x1="1888.2" y1="1118.8" x2="1903.2" y2="1118.8" stroke="#000" stroke-width="2.0" />
<line x1="1888.2" y1="1170.0" x2="1903.2" y2="1170.0" stroke="#000" stroke-width="2.0" />
<line x1="1906.1" y1="1139.0" x2="1906.1" y2="1171.6" stroke="#000" stroke-width="1.4" />
<line x1="1898.6" y1="1139.0" x2="1913.6" y2="1139.0" stroke="#000" stroke-width="2.0" />
<line x1="1898.6" y1="1171.6" x2="1913.6" y2="1171.6" stroke="#000" stroke-width="2.0" />
<line x1="1916.5" y1="1134.9" x2="1916.5" y2="1187.1" stroke="#000" stroke-width="1.4" />
<line x1="1909.0" y1="1134.9" x2="1924.0" y2="1134.9" stroke="#000" stroke-width="2.0" />
<line x1="1909.0" y1="1187.1" x2="1924.0" y2="1187.1" stroke="#000" stroke-width="2.0" />
<line x1="1926.9" y1="1129.0" x2="1926.9" y2="1177.0" stroke="#000" stroke-width="1.4" />
<line x1="1919.4" y1="1129.0" x2="1934.4" y2="1129.0" stroke="#000" stroke-width="2.0" />
<line x1="1919.4" y1="1177.0" x2="1934.4" y2="1177.0" stroke="#000" stroke-width="2.0" />
<line x1="1937.3" y1="1142.0" x2="1937.3" y2="1168.0" stroke="#000" stroke-width="1.4" />
<line x1="1929.8" y1="1142.0" x2="1944.8" y2="1142.0" stroke="#000" stroke-width="2.0" />
<line x1="1929.8" y1="1168.0" x2="1944.8" y2="1168.0" stroke="#000" stroke-width="2.0" />
<line x1="1947.7" y1="1149.8" x2="1947.7" y2="1181.4" stroke="#000" stroke-width="1.4" />
<line x1="1940.2" y1="1149.8" x2="1955.2" y2="1149.8" stroke="#000" stroke-width="2.0" />
<line x1="1940.2" y1="1181.4" x2="1955.2" y2="1181.4" stroke="#000" stroke-width="2.0" />
<line x1="1958.1" y1="1124.5" x2="1958.1" y2="1164.3" stroke="#000" stroke-width="1.4" />
<line x1="1950.6" y1="1124.5" x2="1965.6" y2="1124.5" stroke="#000" stroke-width="2.0" />
<line x1="1950.6" y1="1164.3" x2="1965.6" y2="1164.3" stroke="#000" stroke-width="2.0" />
<line x1="1968.5" y1="1124.8" x2="1968.5" y2="1168.8" stroke="#000" stroke-width="1.4" />
<line x1="1961.0" y1="1124.8" x2="1976.0" y2="1124.8" stroke="#000" stroke-width="2.0" />
<line x1="1961.0" y1="1168.8" x2="1976.0" y2="1168.8" stroke="#000" stroke-width="2.0" />
<line x1="1978.9" y1="1143.2" x2="1978.9" y2="1197.0" stroke="#000" stroke-width="1.4" />
<line x1="1971.4" y1="1143.2" x2="1986.4" y2="1143.2" stroke="#000" stroke-width="2.0" />
<line x1="1971.4" y1="1197.0" x2="1986.4" y2="1197.0" stroke="#000" stroke-width="2.0" />
<line x1="1989.3" y1="1135.8" x2="1989.3" y2="1171.6" stroke="#000" stroke-width="1.4" />
<line x1="1981.8" y1="1135.8" x2="1996.8" y2="1135.8" stroke="#000" stroke-width="2.0" />
<line x1="1981.8" y1="1171.6" x2="1996.8" y2="1171.6" stroke="#000" stroke-width="2.0" />
<line x1="1999.7" y1="1147.3" x2="1999.7" y2="1203.7" stroke="#000" stroke-width="1.4" />
<line x1="1992.2" y1="1147.3" x2="2007.2" y2="1147.3" stroke="#000" stroke-width="2.0" />
<line x1="1992.2" y1="1203.7" x2="2007.2" y2="1203.7" stroke="#000" stroke-width="2.0" />
<line x1="2010.1" y1="1161.7" x2="2010.1" y2="1200.1" stroke="#000" stroke-width="1.4" />
<line x1="2002.6" y1="1161.7" x2="2017.6" y2="1161.7" stroke="#000" stroke-width="2.0" />
<line x1="2002.6" y1="1200.1" x2="2017.6" y2="1200.1" stroke="#000" stroke-width="2.0" />
<line x1="2020.5" y1="1157.6" x2="2020.5" y2="1184.0" stroke="#000" stroke-width="1.4" />
<line x1="2013.0" y1="1157.6" x2="2028.0" y2="1157.6" stroke="#000" stroke-width="2.0" />
<line x1="2013.0" y1="1184.0" x2="2028.0" y2="1184.0" stroke="#000" stroke-width="2.0" />
<line x1="2030.9" y1="1051.8" x2="2030.9" y2="1125.4" stroke="#000" stroke-width="1.4" />
<line x1="2023.4" y1="1051.8" x2="2038.4" y2="1051.8" stroke="#000" stroke-width="2.0" />
<line x1="2023.4" y1="1125.4" x2="2038.4" y2="1125.4" stroke="#000" stroke-width="2.0" />
<line x1="2041.3" y1="1020.9" x2="2041.3" y2="1106.9" stroke="#000" stroke-width="1.4" />
<line x1="2033.8" y1="1020.9" x2="2048.8" y2="1020.9" stroke="#000" stroke-width="2.0" />
<line x1="2033.8" y1="1106.9" x2="2048.8" y2="1106.9" stroke="#000" stroke-width="2.0" />
<line x1="2051.7" y1="967.3" x2="2051.7" y2="1087.3" stroke="#000" stroke-width="1.4" />
<line x1="2044.2" y1="967.3" x2="2059.2" y2="967.3" stroke="#000" stroke-width="2.0" />
<line x1="2044.2" y1="1087.3" x2="2059.2" y2="1087.3" stroke="#000" stroke-width="2.0" />
<line x1="2062.1" y1="939.2" x2="2062.1" y2="1063.2" stroke="#000" stroke-width="1.4" />
<line x1="2054.6" y1="939.2" x2="2069.6" y2="939.2" stroke="#000" stroke-width="2.0" />
<line x1="2054.6" y1="1063.2" x2="2069.6" y2="1063.2" stroke="#000" stroke-width="2.0" />
<line x1="2072.5" y1="858.4" x2="2072.5" y2="974.4" stroke="#000" stroke-width="1.4" />
<line x1="2065.0" y1="858.4" x2="2080.0" y2="858.4" stroke="#000" stroke-width="2.0" />
<line x1="2065.0" y1="974.4" x2="2080.0" y2="974.4" stroke="#000" stroke-width="2.0" />
<line x1="2082.9" y1="909.3" x2="2082.9" y2="1008.7" stroke="#000" stroke-width="1.4" />
<line x1="2075.4" y1="909.3" x2="2090.4" y2="909.3" stroke="#000" stroke-width="2.0" />
<line x1="2075.4" y1="1008.7" x2="2090.4" y2="1008.7" stroke="#000" stroke-width="2.0" />
<line x1="2093.3" y1="892.0" x2="2093.3" y2="975.6" stroke="#000" stroke-width="1.4" />
<line x1="2085.8" y1="892.0" x2="2100.8" y2="892.0" stroke="#000" stroke-width="2.0" />
<line x1="2085.8" y1="975.6" x2="2100.8" y2="975.6" stroke="#000" stroke-width="2.0" />
<line x1="2103.7" y1="833.8" x2="2103.7" y2="967.6" stroke="#000" stroke-width="1.4" />
<line x1="2096.2" y1="833.8" x2="2111.2" y2="833.8" stroke="#000" stroke-width="2.0" />
<line x1="2096.2" y1="967.6" x2="2111.2" y2="967.6" stroke="#000" stroke-width="2.0" />
<line x1="2114.1" y1="878.8" x2="2114.1" y2="956.8" stroke="#000" stroke-width="1.4" />
<line x1="2106.6" y1="878.8" x2="2121.6" y2="878.8" stroke="#000" stroke-width="2.0" />
<line x1="2106.6" y1="956.8" x2="2121.6" y2="956.8" stroke="#000" stroke-width="2.0" />
<line x1="2124.5" y1="817.8" x2="2124.5" y2="941.4" stroke="#000" stroke-width="1.4" />
<line x1="2117.0" y1="817.8" x2="2132.0" y2="817.8" stroke="#000" stroke-width="2.0" />
<line x1="2117.0" y1="941.4" x2="2132.0" y2="941.4" stroke="#000" stroke-width="2.0" />
<line x1="2134.9" y1="914.8" x2="2134.9" y2="1003.2" stroke="#000" stroke-width="1.4" />
<line x1="2127.4" y1="914.8" x2="2142.4" y2="914.8" stroke="#000" stroke-width="2.0" />
<line x1="2127.4" y1="1003.2" x2="2142.4" y2="1003.2" stroke="#000" stroke-width="2.0" />
<line x1="2145.3" y1="849.4" x2="2145.3" y2="970.0" stroke="#000" stroke-width="1.4" />
<line x1="2137.8" y1="849.4" x2="2152.8" y2="849.4" stroke="#000" stroke-width="2.0" />
<line x1="2137.8" y1="970.0" x2="2152.8" y2="970.0" stroke="#000" stroke-width="2.0" />
<line x1="2155.7" y1="901.9" x2="2155.7" y2="1011.9" stroke="#000" stroke-width="1.4" />
<line x1="2148.2" y1="901.9" x2="2163.2" y2="901.9" stroke="#000" stroke-width="2.0" />
<line x1="2148.2" y1="1011.9" x2="2163.2" y2="1011.9" stroke="#000" stroke-width="2.0" />
<line x1="2166.1" y1="851.2" x2="2166.1" y2="1000.4" stroke="#000" stroke-width="1.4" />
<line x1="2158.6" y1="851.2" x2="2173.6" y2="851.2" stroke="#000" stroke-width="2.0" />
<line x1="2158.6" y1="1000.4" x2="2173.6" y2="1000.4" stroke="#000" stroke-width="2.0" />
<line x1="2176.5" y1="789.0" x2="2176.5" y2="915.8" stroke="#000" stroke-width="1.4" />
<line x1="2169.0" y1="789.0" x2="2184.0" y2="789.0" stroke="#000" stroke-width="2.0" />
<line x1="2169.0" y1="915.8" x2="2184.0" y2="915.8" stroke="#000" stroke-width="2.0" />
<line x1="2186.9" y1="775.0" x2="2186.9" y2="913.0" stroke="#000" stroke-width="1.4" />
<line x1="2179.4" y1="775.0" x2="2194.4" y2="775.0" stroke="#000" stroke-width="2.0" />
<line x1="2179.4" y1="913.0" x2="2194.4" y2="913.0" stroke="#000" stroke-width="2.0" />
<line x1="2197.3" y1="811.6" x2="2197.3" y2="953.6" stroke="#000" stroke-width="1.4" />
<line x1="2189.8" y1="811.6" x2="2204.8" y2="811.6" stroke="#000" stroke-width="2.0" />
<line x1="2189.8" y1="953.6" x2="2204.8" y2="953.6" stroke="#000" stroke-width="2.0" />
<line x1="2207.7" y1="782.6" x2="2207.7" y2="924.2" stroke="#000" stroke-width="1.4" />
<line x1="2200.2" y1="782.6" x2="2215.2" y2="782.6" stroke="#000" stroke-width="2.0" />
<line x1="2200.2" y1="924.2" x2="2215.2" y2="924.2" stroke="#000" stroke-width="2.0" />
<line x1="2218.1" y1="754.3" x2="2218.1" y2="902.3" stroke="#000" stroke-width="1.4" />
<line x1="2210.6" y1="754.3" x2="2225.6" y2="754.3" stroke="#000" stroke-width="2.0" />
<line x1="2210.6" y1="902.3" x2="2225.6" y2="902.3" stroke="#000" stroke-width="2.0" />
<line x1="2228.5" y1="800.9" x2="2228.5" y2="934.9" stroke="#000" stroke-width="1.4" />
<line x1="2221.0" y1="800.9" x2="2236.0" y2="800.9" stroke="#000" stroke-width="2.0" />
<line x1="2221.0" y1="934.9" x2="2236.0" y2="934.9" stroke="#000" stroke-width="2.0" />
<line x1="2238.9" y1="823.3" x2="2238.9" y2="947.9" stroke="#000" stroke-width="1.4" />
<line x1="2231.4" y1="823.3" x2="2246.4" y2="823.3" stroke="#000" stroke-width="2.0" />
<line x1="2231.4" y1="947.9" x2="2246.4" y2="947.9" stroke="#000" stroke-width="2.0" />
<line x1="2249.3" y1="781.2" x2="2249.3" y2="943.0" stroke="#000" stroke-width="1.4" />
<line x1="2241.8" y1="781.2" x2="2256.8" y2="781.2" stroke="#000" stroke-width="2.0" />
<line x1="2241.8" y1="943.0" x2="2256.8" y2="943.0" stroke="#000" stroke-width="2.0" />
<line x1="2259.7" y1="824.7" x2="2259.7" y2="950.5" stroke="#000" stroke-width="1.4" />
<line x1="2252.2" y1="824.7" x2="2267.2" y2="824.7" stroke="#000" stroke-width="2.0" />
<line x1="2252.2" y1="950.5" x2="2267.2" y2="950.5" stroke="#000" stroke-width="2.0" />
<line x1="2270.1" y1="857.8" x2="2270.1" y2="987.8" stroke="#000" stroke-width="1.4" />
<line x1="2262.6" y1="857.8" x2="2277.6" y2="857.8" stroke="#000" stroke-width="2.0" />
<line x1="2262.6" y1="987.8" x2="2277.6" y2="987.8" stroke="#000" stroke-width="2.0" />
<line x1="2280.5" y1="809.5" x2="2280.5" y2="941.7" stroke="#000" stroke-width="1.4" />
<line x1="2273.0" y1="809.5" x2="2288.0" y2="809.5" stroke="#000" stroke-width="2.0" />
<line x1="2273.0" y1="941.7" x2="2288.0" y2="941.7" stroke="#000" stroke-width="2.0" />
<line x1="2290.9" y1="765.7" x2="2290.9" y2="884.9" stroke="#000" stroke-width="1.4" />
<line x1="2283.4" y1="765.7" x2="2298.4" y2="765.7" stroke="#000" stroke-width="2.0" />
<line x1="2283.4" y1="884.9" x2="2298.4" y2="884.9" stroke="#000" stroke-width="2.0" />
<line x1="2301.3" y1="794.9" x2="2301.3" y2="922.1" stroke="#000" stroke-width="1.4" />
<line x1="2293.8" y1="794.9" x2="2308.8" y2="794.9" stroke="#000" stroke-width="2.0" />
<line x1="2293.8" y1="922.1" x2="2308.8" y2="922.1" stroke="#000" stroke-width="2.0" />
<line x1="2311.7" y1="743.2" x2="2311.7" y2="873.2" stroke="#000" stroke-width="1.4" />
<line x1="2304.2" y1="743.2" x2="2319.2" y2="743.2" stroke="#000" stroke-width="2.0" />
<line x1="2304.2" y1="873.2" x2="2319.2" y2="873.2" stroke="#000" stroke-width="2.0" />
<line x1="2322.1" y1="800.6" x2="2322.1" y2="950.6" stroke="#000" stroke-width="1.4" />
<line x1="2314.6" y1="800.6" x2="2329.6" y2="800.6" stroke="#000" stroke-width="2.0" />
<line x1="2314.6" y1="950.6" x2="2329.6" y2="950.6" stroke="#000" stroke-width="2.0" />
<line x1="2332.5" y1="748.3" x2="2332.5" y2="888.3" stroke="#000" stroke-width="1.4" />
<line x1="2325.0" y1="748.3" x2="2340.0" y2="748.3" stroke="#000" stroke-width="2.0" />
<line x1="2325.0" y1="888.3" x2="2340.0" y2="888.3" stroke="#000" stroke-width="2.0" />
<line x1="2342.9" y1="751.6" x2="2342.9" y2="921.4" stroke="#000" stroke-width="1.4" />
<line x1="2335.4" y1="751.6" x2="2350.4" y2="751.6" stroke="#000" stroke-width="2.0" />
<line x1="2335.4" y1="921.4" x2="2350.4" y2="921.4" stroke="#000" stroke-width="2.0" />
<line x1="2353.3" y1="755.1" x2="2353.3" y2="921.9" stroke="#000" stroke-width="1.4" />
<line x1="2345.8" y1="755.1" x2="2360.8" y2="755.1" stroke="#000" stroke-width="2.0" />
<line x1="2345.8" y1="921.9" x2="2360.8" y2="921.9" stroke="#000" stroke-width="2.0" />
<line x1="2363.7" y1="764.8" x2="2363.7" y2="900.1" stroke="#000" stroke-width="1.4" />
<line x1="2356.2" y1="764.8" x2="2371.2" y2="764.8" stroke="#000" stroke-width="2.0" />
<line x1="2356.2" y1="900.1" x2="2371.2" y2="900.1" stroke="#000" stroke-width="2.0" />
<line x1="2374.1" y1="741.2" x2="2374.1" y2="913.6" stroke="#000" stroke-width="1.4" />
<line x1="2366.6" y1="741.2" x2="2381.6" y2="741.2" stroke="#000" stroke-width="2.0" />
<line x1="2366.6" y1="913.6" x2="2381.6" y2="913.6" stroke="#000" stroke-width="2.0" />
<line x1="2384.5" y1="768.8" x2="2384.5" y2="928.2" stroke="#000" stroke-width="1.4" />
<line x1="2377.0" y1="768.8" x2="2392.0" y2="768.8" stroke="#000" stroke-width="2.0" />
<line x1="2377.0" y1="928.2" x2="2392.0" y2="928.2" stroke="#000" stroke-width="2.0" />
<line x1="2394.9" y1="813.6" x2="2394.9" y2="949.8" stroke="#000" stroke-width="1.4" />
<line x1="2387.4" y1="813.6" x2="2402.4" y2="813.6" stroke="#000" stroke-width="2.0" />
<line x1="2387.4" y1="949.8" x2="2402.4" y2="949.8" stroke="#000" stroke-width="2.0" />
<line x1="2405.3" y1="732.4" x2="2405.3" y2="867.4" stroke="#000" stroke-width="1.4" />
<line x1="2397.8" y1="732.4" x2="2412.8" y2="732.4" stroke="#000" stroke-width="2.0" />
<line x1="2397.8" y1="867.4" x2="2412.8" y2="867.4" stroke="#000" stroke-width="2.0" />
<line x1="2415.7" y1="782.2" x2="2415.7" y2="939.0" stroke="#000" stroke-width="1.4" />
<line x1="2408.2" y1="782.2" x2="2423.2" y2="782.2" stroke="#000" stroke-width="2.0" />
<line x1="2408.2" y1="939.0" x2="2423.2" y2="939.0" stroke="#000" stroke-width="2.0" />
<line x1="2426.1" y1="757.4" x2="2426.1" y2="914.7" stroke="#000" stroke-width="1.4" />
<line x1="2418.6" y1="757.4" x2="2433.6" y2="757.4" stroke="#000" stroke-width="2.0" />
<line x1="2418.6" y1="914.7" x2="2433.6" y2="914.7" stroke="#000" stroke-width="2.0" />
<line x1="2436.5" y1="826.7" x2="2436.5" y2="944.7" stroke="#000" stroke-width="1.4" />
<line x1="2429.0" y1="826.7" x2="2444.0" y2="826.7" stroke="#000" stroke-width="2.0" />
<line x1="2429.0" y1="944.7" x2="2444.0" y2="944.7" stroke="#000" stroke-width="2.0" />
<line x1="2446.9" y1="757.7" x2="2446.9" y2="904.0" stroke="#000" stroke-width="1.4" />
<line x1="2439.4" y1="757.7" x2="2454.4" y2="757.7" stroke="#000" stroke-width="2.0" />
<line x1="2439.4" y1="904.0" x2="2454.4" y2="904.0" stroke="#000" stroke-width="2.0" />
<line x1="2457.3" y1="805.3" x2="2457.3" y2="907.8" stroke="#000" stroke-width="1.4" />
<line x1="2449.8" y1="805.3" x2="2464.8" y2="805.3" stroke="#000" stroke-width="2.0" />
<line x1="2449.8" y1="907.8" x2="2464.8" y2="907.8" stroke="#000" stroke-width="2.0" />
<line x1="2467.7" y1="793.1" x2="2467.7" y2="923.3" stroke="#000" stroke-width="1.4" />
<line x1="2460.2" y1="793.1" x2="2475.2" y2="793.1" stroke="#000" stroke-width="2.0" />
<line x1="2460.2" y1="923.3" x2="2475.2" y2="923.3" stroke="#000" stroke-width="2.0" />
<line x1="2478.1" y1="762.3" x2="2478.1" y2="912.6" stroke="#000" stroke-width="1.4" />
<line x1="2470.6" y1="762.3" x2="2485.6" y2="762.3" stroke="#000" stroke-width="2.0" />
<line x1="2470.6" y1="912.6" x2="2485.6" y2="912.6" stroke="#000" stroke-width="2.0" />
<line x1="2488.5" y1="784.6" x2="2488.5" y2="890.3" stroke="#000" stroke-width="1.4" />
<line x1="2481.0" y1="784.6" x2="2496.0" y2="784.6" stroke="#000" stroke-width="2.0" />
<line x1="2481.0" y1="890.3" x2="2496.0" y2="890.3" stroke="#000" stroke-width="2.0" />
<line x1="2498.9" y1="767.1" x2="2498.9" y2="897.8" stroke="#000" stroke-width="1.4" />
<line x1="2491.4" y1="767.1" x2="2506.4" y2="767.1" stroke="#000" stroke-width="2.0" />
<line x1="2491.4" y1="897.8" x2="2506.4" y2="897.8" stroke="#000" stroke-width="2.0" />
<line x1="2509.3" y1="781.4" x2="2509.3" y2="911.6" stroke="#000" stroke-width="1.4" />
<line x1="2501.8" y1="781.4" x2="2516.8" y2="781.4" stroke="#000" stroke-width="2.0" />
<line x1="2501.8" y1="911.6" x2="2516.8" y2="911.6" stroke="#000" stroke-width="2.0" />
<line x1="2519.7" y1="743.7" x2="2519.7" y2="889.8" stroke="#000" stroke-width="1.4" />
<line x1="2512.2" y1="743.7" x2="2527.2" y2="743.7" stroke="#000" stroke-width="2.0" />
<line x1="2512.2" y1="889.8" x2="2527.2" y2="889.8" stroke="#000" stroke-width="2.0" />
<line x1="2530.1" y1="768.6" x2="2530.1" y2="916.3" stroke="#000" stroke-width="1.4" />
<line x1="2522.6" y1="768.6" x2="2537.6" y2="768.6" stroke="#000" stroke-width="2.0" />
<line x1="2522.6" y1="916.3" x2="2537.6" y2="916.3" stroke="#000" stroke-width="2.0" />
<line x1="2540.5" y1="772.0" x2="2540.5" y2="927.1" stroke="#000" stroke-width="1.4" />
<line x1="2533.0" y1="772.0" x2="2548.0" y2="772.0" stroke="#000" stroke-width="2.0" />
<line x1="2533.0" y1="927.1" x2="2548.0" y2="927.1" stroke="#000" stroke-width="2.0" />
<line x1="2550.9" y1="745.2" x2="2550.9" y2="891.5" stroke="#000" stroke-width="1.4" />
<line x1="2543.4" y1="745.2" x2="2558.4" y2="745.2" stroke="#000" stroke-width="2.0" />
<line x1="2543.4" y1="891.5" x2="2558.4" y2="891.5" stroke="#000" stroke-width="2.0" />
<line x1="2561.3" y1="781.7" x2="2561.3" y2="947.5" stroke="#000" stroke-width="1.4" />
<line x1="2553.8" y1="781.7" x2="2568.8" y2="781.7" stroke="#000" stroke-width="2.0" />
<line x1="2553.8" y1="947.5" x2="2568.8" y2="947.5" stroke="#000" stroke-width="2.0" />
<line x1="2571.7" y1="751.2" x2="2571.7" y2="894.8" stroke="#000" stroke-width="1.4" />
<line x1="2564.2" y1="751.2" x2="2579.2" y2="751.2" stroke="#000" stroke-width="2.0" />
<line x1="2564.2" y1="894.8" x2="2579.2" y2="894.8" stroke="#000" stroke-width="2.0" />
<line x1="2582.1" y1="790.4" x2="2582.1" y2="926.7" stroke="#000" stroke-width="1.4" />
<line x1="2574.6" y1="790.4" x2="2589.6" y2="790.4" stroke="#000" stroke-width="2.0" />
<line x1="2574.6" y1="926.7" x2="2589.6" y2="926.7" stroke="#000" stroke-width="2.0" />
<line x1="2592.5" y1="829.4" x2="2592.5" y2="935.9" stroke="#000" stroke-width="1.4" />
<line x1="2585.0" y1="829.4" x2="2600.0" y2="829.4" stroke="#000" stroke-width="2.0" />
<line x1="2585.0" y1="935.9" x2="2600.0" y2="935.9" stroke="#000" stroke-width="2.0" />
<line x1="2602.9" y1="776.8" x2="2602.9" y2="882.1" stroke="#000" stroke-width="1.4" />
<line x1="2595.4" y1="776.8" x2="2610.4" y2="776.8" stroke="#000" stroke-width="2.0" />
<line x1="2595.4" y1="882.1" x2="2610.4" y2="882.1" stroke="#000" stroke-width="2.0" />
<line x1="2613.3" y1="776.8" x2="2613.3" y2="907.4" stroke="#000" stroke-width="1.4" />
<line x1="2605.8" y1="776.8" x2="2620.8" y2="776.8" stroke="#000" stroke-width="2.0" />
<line x1="2605.8" y1="907.4" x2="2620.8" y2="907.4" stroke="#000" stroke-width="2.0" />
<line x1="2623.7" y1="782.9" x2="2623.7" y2="938.3" stroke="#000" stroke-width="1.4" />
<line x1="2616.2" y1="782.9" x2="2631.2" y2="782.9" stroke="#000" stroke-width="2.0" />
<line x1="2616.2" y1="938.3" x2="2631.2" y2="938.3" stroke="#000" stroke-width="2.0" />
<line x1="2634.1" y1="785.2" x2="2634.1" y2="897.8" stroke="#000" stroke-width="1.4" />
<line x1="2626.6" y1="785.2" x2="2641.6" y2="785.2" stroke="#000" stroke-width="2.0" />
<line x1="2626.6" y1="897.8" x2="2641.6" y2="897.8" stroke="#000" stroke-width="2.0" />
<line x1="2644.5" y1="801.2" x2="2644.5" y2="939.3" stroke="#000" stroke-width="1.4" />
<line x1="2637.0" y1="801.2" x2="2652.0" y2="801.2" stroke="#000" stroke-width="2.0" />
<line x1="2637.0" y1="939.3" x2="2652.0" y2="939.3" stroke="#000" stroke-width="2.0" />
<line x1="1718.9" y1="1133.5" x2="1718.9" y2="1183.1" stroke="#ff0000" stroke-width="1.4" />
<line x1="1711.4" y1="1133.5" x2="1726.4" y2="1133.5" stroke="#ff0000" stroke-width="2.0" />
<line x1="1711.4" y1="1183.1" x2="1726.4" y2="1183.1" stroke="#ff0000" stroke-width="2.0" />
<line x1="1729.3" y1="1133.5" x2="1729.3" y2="1177.3" stroke="#ff0000" stroke-width="1.4" />
<line x1="1721.8" y1="1133.5" x2="1736.8" y2="1133.5" stroke="#ff0000" stroke-width="2.0" />
<line x1="1721.8" y1="1177.3" x2="1736.8" y2="1177.3" stroke="#ff0000" stroke-width="2.0" />
<line x1="1739.7" y1="1134.4" x2="1739.7" y2="1170.0" stroke="#ff0000" stroke-width="1.4" />
<line x1="1732.2" y1="1134.4" x2="1747.2" y2="1134.4" stroke="#ff0000" stroke-width="2.0" />
<line x1="1732.2" y1="1170.0" x2="1747.2" y2="1170.0" stroke="#ff0000" stroke-width="2.0" />
<line x1="1750.1" y1="1130.0" x2="1750.1" y2="1174.4" stroke="#ff0000" stroke-width="1.4" />
<line x1="1742.6" y1="1130.0" x2="1757.6" y2="1130.0" stroke="#ff0000" stroke-width="2.0" />
<line x1="1742.6" y1="1174.4" x2="1757.6" y2="1174.4" stroke="#ff0000" stroke-width="2.0" />
<line x1="1760.5" y1="1130.1" x2="1760.5" y2="1170.1" stroke="#ff0000" stroke-width="1.4" />
<line x1="1753.0" y1="1130.1" x2="1768.0" y2="1130.1" stroke="#ff0000" stroke-width="2.0" />
<line x1="1753.0" y1="1170.1" x2="1768.0" y2="1170.1" stroke="#ff0000" stroke-width="2.0" />
<line x1="1770.9" y1="1124.2" x2="1770.9" y2="1174.4" stroke="#ff0000" stroke-width="1.4" />
<line x1="1763.4" y1="1124.2" x2="1778.4" y2="1124.2" stroke="#ff0000" stroke-width="2.0" />
<line x1="1763.4" y1="1174.4" x2="1778.4" y2="1174.4" stroke="#ff0000" stroke-width="2.0" />
<line x1="1781.3" y1="1123.3" x2="1781.3" y2="1169.5" stroke="#ff0000" stroke-width="1.4" />
<line x1="1773.8" y1="1123.3" x2="1788.8" y2="1123.3" stroke="#ff0000" stroke-width="2.0" />
<line x1="1773.8" y1="1169.5" x2="1788.8" y2="1169.5" stroke="#ff0000" stroke-width="2.0" />
<line x1="1791.7" y1="1142.7" x2="1791.7" y2="1188.5" stroke="#ff0000" stroke-width="1.4" />
<line x1="1784.2" y1="1142.7" x2="1799.2" y2="1142.7" stroke="#ff0000" stroke-width="2.0" />
<line x1="1784.2" y1="1188.5" x2="1799.2" y2="1188.5" stroke="#ff0000" stroke-width="2.0" />
<line x1="1802.1" y1="1129.1" x2="1802.1" y2="1185.7" stroke="#ff0000" stroke-width="1.4" />
<line x1="1794.6" y1="1129.1" x2="1809.6" y2="1129.1" stroke="#ff0000" stroke-width="2.0" />
<line x1="1794.6" y1="1185.7" x2="1809.6" y2="1185.7" stroke="#ff0000" stroke-width="2.0" />
<line x1="1812.5" y1="1155.9" x2="1812.5" y2="1187.1" stroke="#ff0000" stroke-width="1.4" />
<line x1="1805.0" y1="1155.9" x2="1820.0" y2="1155.9" stroke="#ff0000" stroke-width="2.0" />
<line x1="1805.0" y1="1187.1" x2="1820.0" y2="1187.1" stroke="#ff0000" stroke-width="2.0" />
<line x1="1822.9" y1="1144.2" x2="1822.9" y2="1198.2" stroke="#ff0000" stroke-width="1.4" />
<line x1="1815.4" y1="1144.2" x2="1830.4" y2="1144.2" stroke="#ff0000" stroke-width="2.0" />
<line x1="1815.4" y1="1198.2" x2="1830.4" y2="1198.2" stroke="#ff0000" stroke-width="2.0" />
<line x1="1833.3" y1="1127.6" x2="1833.3" y2="1171.6" stroke="#ff0000" stroke-width="1.4" />
<line x1="1825.8" y1="1127.6" x2="1840.8" y2="1127.6" stroke="#ff0000" stroke-width="2.0" />
<line x1="1825.8" y1="1171.6" x2="1840.8" y2="1171.6" stroke="#ff0000" stroke-width="2.0" />
<line x1="1843.7" y1="1150.5" x2="1843.7" y2="1187.1" stroke="#ff0000" stroke-width="1.4" />
<line x1="1836.2" y1="1150.5" x2="1851.2" y2="1150.5" stroke="#ff0000" stroke-width="2.0" />
<line x1="1836.2" y1="1187.1" x2="1851.2" y2="1187.1" stroke="#ff0000" stroke-width="2.0" />
<line x1="1854.1" y1="1161.2" x2="1854.1" y2="1187.0" stroke="#ff0000" stroke-width="1.4" />
<line x1="1846.6" y1="1161.2" x2="1861.6" y2="1161.2" stroke="#ff0000" stroke-width="2.0" />
<line x1="1846.6" y1="1187.0" x2="1861.6" y2="1187.0" stroke="#ff0000" stroke-width="2.0" />
<line x1="1864.5" y1="1148.5" x2="1864.5" y2="1186.5" stroke="#ff0000" stroke-width="1.4" />
<line x1="1857.0" y1="1148.5" x2="1872.0" y2="1148.5" stroke="#ff0000" stroke-width="2.0" />
<line x1="1857.0" y1="1186.5" x2="1872.0" y2="1186.5" stroke="#ff0000" stroke-width="2.0" />
<line x1="1874.9" y1="1143.2" x2="1874.9" y2="1192.8" stroke="#ff0000" stroke-width="1.4" />
<line x1="1867.4" y1="1143.2" x2="1882.4" y2="1143.2" stroke="#ff0000" stroke-width="2.0" />
<line x1="1867.4" y1="1192.8" x2="1882.4" y2="1192.8" stroke="#ff0000" stroke-width="2.0" />
<line x1="1885.3" y1="1132.2" x2="1885.3" y2="1188.2" stroke="#ff0000" stroke-width="1.4" />
<line x1="1877.8" y1="1132.2" x2="1892.8" y2="1132.2" stroke="#ff0000" stroke-width="2.0" />
<line x1="1877.8" y1="1188.2" x2="1892.8" y2="1188.2" stroke="#ff0000" stroke-width="2.0" />
<line x1="1895.7" y1="1133.3" x2="1895.7" y2="1175.7" stroke="#ff0000" stroke-width="1.4" />
<line x1="1888.2" y1="1133.3" x2="1903.2" y2="1133.3" stroke="#ff0000" stroke-width="2.0" />
<line x1="1888.2" y1="1175.7" x2="1903.2" y2="1175.7" stroke="#ff0000" stroke-width="2.0" />
<line x1="1906.1" y1="1131.2" x2="1906.1" y2="1187.2" stroke="#ff0000" stroke-width="1.4" />
<line x1="1898.6" y1="1131.2" x2="1913.6" y2="1131.2" stroke="#ff0000" stroke-width="2.0" />
<line x1="1898.6" y1="1187.2" x2="1913.6" y2="1187.2" stroke="#ff0000" stroke-width="2.0" />
<line x1="1916.5" y1="1139.3" x2="1916.5" y2="1183.3" stroke="#ff0000" stroke-width="1.4" />
<line x1="1909.0" y1="1139.3" x2="1924.0" y2="1139.3" stroke="#ff0000" stroke-width="2.0" />
<line x1="1909.0" y1="1183.3" x2="1924.0" y2="1183.3" stroke="#ff0000" stroke-width="2.0" />
<line x1="1926.9" y1="1128.7" x2="1926.9" y2="1189.7" stroke="#ff0000" stroke-width="1.4" />
<line x1="1919.4" y1="1128.7" x2="1934.4" y2="1128.7" stroke="#ff0000" stroke-width="2.0" />
<line x1="1919.4" y1="1189.7" x2="1934.4" y2="1189.7" stroke="#ff0000" stroke-width="2.0" />
<line x1="1937.3" y1="1141.6" x2="1937.3" y2="1194.4" stroke="#ff0000" stroke-width="1.4" />
<line x1="1929.8" y1="1141.6" x2="1944.8" y2="1141.6" stroke="#ff0000" stroke-width="2.0" />
<line x1="1929.8" y1="1194.4" x2="1944.8" y2="1194.4" stroke="#ff0000" stroke-width="2.0" />
<line x1="1947.7" y1="1146.4" x2="1947.7" y2="1184.4" stroke="#ff0000" stroke-width="1.4" />
<line x1="1940.2" y1="1146.4" x2="1955.2" y2="1146.4" stroke="#ff0000" stroke-width="2.0" />
<line x1="1940.2" y1="1184.4" x2="1955.2" y2="1184.4" stroke="#ff0000" stroke-width="2.0" />
<line x1="1958.1" y1="1134.4" x2="1958.1" y2="1184.0" stroke="#ff0000" stroke-width="1.4" />
<line x1="1950.6" y1="1134.4" x2="1965.6" y2="1134.4" stroke="#ff0000" stroke-width="2.0" />
<line x1="1950.6" y1="1184.0" x2="1965.6" y2="1184.0" stroke="#ff0000" stroke-width="2.0" />
<line x1="1968.5" y1="1151.7" x2="1968.5" y2="1195.7" stroke="#ff0000" stroke-width="1.4" />
<line x1="1961.0" y1="1151.7" x2="1976.0" y2="1151.7" stroke="#ff0000" stroke-width="2.0" />
<line x1="1961.0" y1="1195.7" x2="1976.0" y2="1195.7" stroke="#ff0000" stroke-width="2.0" />
<line x1="1978.9" y1="1138.0" x2="1978.9" y2="1168.0" stroke="#ff0000" stroke-width="1.4" />
<line x1="1971.4" y1="1138.0" x2="1986.4" y2="1138.0" stroke="#ff0000" stroke-width="2.0" />
<line x1="1971.4" y1="1168.0" x2="1986.4" y2="1168.0" stroke="#ff0000" stroke-width="2.0" />
<line x1="1989.3" y1="1137.3" x2="1989.3" y2="1187.3" stroke="#ff0000" stroke-width="1.4" />
<line x1="1981.8" y1="1137.3" x2="1996.8" y2="1137.3" stroke="#ff0000" stroke-width="2.0" />
<line x1="1981.8" y1="1187.3" x2="1996.8" y2="1187.3" stroke="#ff0000" stroke-width="2.0" />
<line x1="1999.7" y1="1143.4" x2="1999.7" y2="1187.4" stroke="#ff0000" stroke-width="1.4" />
<line x1="1992.2" y1="1143.4" x2="2007.2" y2="1143.4" stroke="#ff0000" stroke-width="2.0" />
<line x1="1992.2" y1="1187.4" x2="2007.2" y2="1187.4" stroke="#ff0000" stroke-width="2.0" />
<line x1="2010.1" y1="1143.1" x2="2010.1" y2="1183.9" stroke="#ff0000" stroke-width="1.4" />
<line x1="2002.6" y1="1143.1" x2="2017.6" y2="1143.1" stroke="#ff0000" stroke-width="2.0" />
<line x1="2002.6" y1="1183.9" x2="2017.6" y2="1183.9" stroke="#ff0000" stroke-width="2.0" />
<line x1="2020.5" y1="1145.2" x2="2020.5" y2="1191.2" stroke="#ff0000" stroke-width="1.4" />
<line x1="2013.0" y1="1145.2" x2="2028.0" y2="1145.2" stroke="#ff0000" stroke-width="2.0" />
<line x1="2013.0" y1="1191.2" x2="2028.0" y2="1191.2" stroke="#ff0000" stroke-width="2.0" />
<line x1="2030.9" y1="1063.6" x2="2030.9" y2="1143.6" stroke="#ff0000" stroke-width="1.4" />
<line x1="2023.4" y1="1063.6" x2="2038.4" y2="1063.6" stroke="#ff0000" stroke-width="2.0" />
<line x1="2023.4" y1="1143.6" x2="2038.4" y2="1143.6" stroke="#ff0000" stroke-width="2.0" />
<line x1="2041.3" y1="999.3" x2="2041.3" y2="1077.3" stroke="#ff0000" stroke-width="1.4" />
<line x1="2033.8" y1="999.3" x2="2048.8" y2="999.3" stroke="#ff0000" stroke-width="2.0" />
<line x1="2033.8" y1="1077.3" x2="2048.8" y2="1077.3" stroke="#ff0000" stroke-width="2.0" />
<line x1="2051.7" y1="935.8" x2="2051.7" y2="1083.4" stroke="#ff0000" stroke-width="1.4" />
<line x1="2044.2" y1="935.8" x2="2059.2" y2="935.8" stroke="#ff0000" stroke-width="2.0" />
<line x1="2044.2" y1="1083.4" x2="2059.2" y2="1083.4" stroke="#ff0000" stroke-width="2.0" />
<line x1="2062.1" y1="971.7" x2="2062.1" y2="1048.7" stroke="#ff0000" stroke-width="1.4" />
<line x1="2054.6" y1="971.7" x2="2069.6" y2="971.7" stroke="#ff0000" stroke-width="2.0" />
<line x1="2054.6" y1="1048.7" x2="2069.6" y2="1048.7" stroke="#ff0000" stroke-width="2.0" />
<line x1="2072.5" y1="971.3" x2="2072.5" y2="1079.3" stroke="#ff0000" stroke-width="1.4" />
<line x1="2065.0" y1="971.3" x2="2080.0" y2="971.3" stroke="#ff0000" stroke-width="2.0" />
<line x1="2065.0" y1="1079.3" x2="2080.0" y2="1079.3" stroke="#ff0000" stroke-width="2.0" />
<line x1="2082.9" y1="951.9" x2="2082.9" y2="1030.3" stroke="#ff0000" stroke-width="1.4" />
<line x1="2075.4" y1="951.9" x2="2090.4" y2="951.9" stroke="#ff0000" stroke-width="2.0" />
<line x1="2075.4" y1="1030.3" x2="2090.4" y2="1030.3" stroke="#ff0000" stroke-width="2.0" />
<line x1="2093.3" y1="866.6" x2="2093.3" y2="971.0" stroke="#ff0000" stroke-width="1.4" />
<line x1="2085.8" y1="866.6" x2="2100.8" y2="866.6" stroke="#ff0000" stroke-width="2.0" />
<line x1="2085.8" y1="971.0" x2="2100.8" y2="971.0" stroke="#ff0000" stroke-width="2.0" />
<line x1="2103.7" y1="981.7" x2="2103.7" y2="1064.1" stroke="#ff0000" stroke-width="1.4" />
<line x1="2096.2" y1="981.7" x2="2111.2" y2="981.7" stroke="#ff0000" stroke-width="2.0" />
<line x1="2096.2" y1="1064.1" x2="2111.2" y2="1064.1" stroke="#ff0000" stroke-width="2.0" />
<line x1="2114.1" y1="983.6" x2="2114.1" y2="1038.8" stroke="#ff0000" stroke-width="1.4" />
<line x1="2106.6" y1="983.6" x2="2121.6" y2="983.6" stroke="#ff0000" stroke-width="2.0" />
<line x1="2106.6" y1="1038.8" x2="2121.6" y2="1038.8" stroke="#ff0000" stroke-width="2.0" />
<line x1="2124.5" y1="990.1" x2="2124.5" y2="1048.3" stroke="#ff0000" stroke-width="1.4" />
<line x1="2117.0" y1="990.1" x2="2132.0" y2="990.1" stroke="#ff0000" stroke-width="2.0" />
<line x1="2117.0" y1="1048.3" x2="2132.0" y2="1048.3" stroke="#ff0000" stroke-width="2.0" />
<line x1="2134.9" y1="893.1" x2="2134.9" y2="1006.7" stroke="#ff0000" stroke-width="1.4" />
<line x1="2127.4" y1="893.1" x2="2142.4" y2="893.1" stroke="#ff0000" stroke-width="2.0" />
<line x1="2127.4" y1="1006.7" x2="2142.4" y2="1006.7" stroke="#ff0000" stroke-width="2.0" />
<line x1="2145.3" y1="883.8" x2="2145.3" y2="963.8" stroke="#ff0000" stroke-width="1.4" />
<line x1="2137.8" y1="883.8" x2="2152.8" y2="883.8" stroke="#ff0000" stroke-width="2.0" />
<line x1="2137.8" y1="963.8" x2="2152.8" y2="963.8" stroke="#ff0000" stroke-width="2.0" />
<line x1="2155.7" y1="919.0" x2="2155.7" y2="1009.0" stroke="#ff0000" stroke-width="1.4" />
<line x1="2148.2" y1="919.0" x2="2163.2" y2="919.0" stroke="#ff0000" stroke-width="2.0" />
<line x1="2148.2" y1="1009.0" x2="2163.2" y2="1009.0" stroke="#ff0000" stroke-width="2.0" />
<line x1="2166.1" y1="894.2" x2="2166.1" y2="979.4" stroke="#ff0000" stroke-width="1.4" />
<line x1="2158.6" y1="894.2" x2="2173.6" y2="894.2" stroke="#ff0000" stroke-width="2.0" />
<line x1="2158.6" y1="979.4" x2="2173.6" y2="979.4" stroke="#ff0000" stroke-width="2.0" />
<line x1="2176.5" y1="896.4" x2="2176.5" y2="1006.2" stroke="#ff0000" stroke-width="1.4" />
<line x1="2169.0" y1="896.4" x2="2184.0" y2="896.4" stroke="#ff0000" stroke-width="2.0" />
<line x1="2169.0" y1="1006.2" x2="2184.0" y2="1006.2" stroke="#ff0000" stroke-width="2.0" />
<line x1="2186.9" y1="839.0" x2="2186.9" y2="968.4" stroke="#ff0000" stroke-width="1.4" />
<line x1="2179.4" y1="839.0" x2="2194.4" y2="839.0" stroke="#ff0000" stroke-width="2.0" />
<line x1="2179.4" y1="968.4" x2="2194.4" y2="968.4" stroke="#ff0000" stroke-width="2.0" />
<line x1="2197.3" y1="864.5" x2="2197.3" y2="1039.3" stroke="#ff0000" stroke-width="1.4" />
<line x1="2189.8" y1="864.5" x2="2204.8" y2="864.5" stroke="#ff0000" stroke-width="2.0" />
<line x1="2189.8" y1="1039.3" x2="2204.8" y2="1039.3" stroke="#ff0000" stroke-width="2.0" />
<line x1="2207.7" y1="882.1" x2="2207.7" y2="963.5" stroke="#ff0000" stroke-width="1.4" />
<line x1="2200.2" y1="882.1" x2="2215.2" y2="882.1" stroke="#ff0000" stroke-width="2.0" />
<line x1="2200.2" y1="963.5" x2="2215.2" y2="963.5" stroke="#ff0000" stroke-width="2.0" />
<line x1="2218.1" y1="891.5" x2="2218.1" y2="1054.5" stroke="#ff0000" stroke-width="1.4" />
<line x1="2210.6" y1="891.5" x2="2225.6" y2="891.5" stroke="#ff0000" stroke-width="2.0" />
<line x1="2210.6" y1="1054.5" x2="2225.6" y2="1054.5" stroke="#ff0000" stroke-width="2.0" />
<line x1="2228.5" y1="857.9" x2="2228.5" y2="1019.9" stroke="#ff0000" stroke-width="1.4" />
<line x1="2221.0" y1="857.9" x2="2236.0" y2="857.9" stroke="#ff0000" stroke-width="2.0" />
<line x1="2221.0" y1="1019.9" x2="2236.0" y2="1019.9" stroke="#ff0000" stroke-width="2.0" />
<line x1="2238.9" y1="920.1" x2="2238.9" y2="985.7" stroke="#ff0000" stroke-width="1.4" />
<line x1="2231.4" y1="920.1" x2="2246.4" y2="920.1" stroke="#ff0000" stroke-width="2.0" />
<line x1="2231.4" y1="985.7" x2="2246.4" y2="985.7" stroke="#ff0000" stroke-width="2.0" />
<line x1="2249.3" y1="944.5" x2="2249.3" y2="1013.7" stroke="#ff0000" stroke-width="1.4" />
<line x1="2241.8" y1="944.5" x2="2256.8" y2="944.5" stroke="#ff0000" stroke-width="2.0" />
<line x1="2241.8" y1="1013.7" x2="2256.8" y2="1013.7" stroke="#ff0000" stroke-width="2.0" />
<line x1="2259.7" y1="915.7" x2="2259.7" y2="988.1" stroke="#ff0000" stroke-width="1.4" />
<line x1="2252.2" y1="915.7" x2="2267.2" y2="915.7" stroke="#ff0000" stroke-width="2.0" />
<line x1="2252.2" y1="988.1" x2="2267.2" y2="988.1" stroke="#ff0000" stroke-width="2.0" />
<line x1="2270.1" y1="845.8" x2="2270.1" y2="989.8" stroke="#ff0000" stroke-width="1.4" />
<line x1="2262.6" y1="845.8" x2="2277.6" y2="845.8" stroke="#ff0000" stroke-width="2.0" />
<line x1="2262.6" y1="989.8" x2="2277.6" y2="989.8" stroke="#ff0000" stroke-width="2.0" />
<line x1="2280.5" y1="913.0" x2="2280.5" y2="1007.0" stroke="#ff0000" stroke-width="1.4" />
<line x1="2273.0" y1="913.0" x2="2288.0" y2="913.0" stroke="#ff0000" stroke-width="2.0" />
<line x1="2273.0" y1="1007.0" x2="2288.0" y2="1007.0" stroke="#ff0000" stroke-width="2.0" />
<line x1="2290.9" y1="876.5" x2="2290.9" y2="985.1" stroke="#ff0000" stroke-width="1.4" />
<line x1="2283.4" y1="876.5" x2="2298.4" y2="876.5" stroke="#ff0000" stroke-width="2.0" />
<line x1="2283.4" y1="985.1" x2="2298.4" y2="985.1" stroke="#ff0000" stroke-width="2.0" />
<line x1="2301.3" y1="887.6" x2="2301.3" y2="984.0" stroke="#ff0000" stroke-width="1.4" />
<line x1="2293.8" y1="887.6" x2="2308.8" y2="887.6" stroke="#ff0000" stroke-width="2.0" />
<line x1="2293.8" y1="984.0" x2="2308.8" y2="984.0" stroke="#ff0000" stroke-width="2.0" />
<line x1="2311.7" y1="894.7" x2="2311.7" y2="1029.3" stroke="#ff0000" stroke-width="1.4" />
<line x1="2304.2" y1="894.7" x2="2319.2" y2="894.7" stroke="#ff0000" stroke-width="2.0" />
<line x1="2304.2" y1="1029.3" x2="2319.2" y2="1029.3" stroke="#ff0000" stroke-width="2.0" />
<line x1="2322.1" y1="949.1" x2="2322.1" y2="1029.1" stroke="#ff0000" stroke-width="1.4" />
<line x1="2314.6" y1="949.1" x2="2329.6" y2="949.1" stroke="#ff0000" stroke-width="2.0" />
<line x1="2314.6" y1="1029.1" x2="2329.6" y2="1029.1" stroke="#ff0000" stroke-width="2.0" />
<line x1="2332.5" y1="879.8" x2="2332.5" y2="989.8" stroke="#ff0000" stroke-width="1.4" />
<line x1="2325.0" y1="879.8" x2="2340.0" y2="879.8" stroke="#ff0000" stroke-width="2.0" />
<line x1="2325.0" y1="989.8" x2="2340.0" y2="989.8" stroke="#ff0000" stroke-width="2.0" />
<line x1="2342.9" y1="846.6" x2="2342.9" y2="979.9" stroke="#ff0000" stroke-width="1.4" />
<line x1="2335.4" y1="846.6" x2="2350.4" y2="846.6" stroke="#ff0000" stroke-width="2.0" />
<line x1="2335.4" y1="979.9" x2="2350.4" y2="979.9" stroke="#ff0000" stroke-width="2.0" />
<line x1="2353.3" y1="876.9" x2="2353.3" y2="1003.1" stroke="#ff0000" stroke-width="1.4" />
<line x1="2345.8" y1="876.9" x2="2360.8" y2="876.9" stroke="#ff0000" stroke-width="2.0" />
<line x1="2345.8" y1="1003.1" x2="2360.8" y2="1003.1" stroke="#ff0000" stroke-width="2.0" />
<line x1="2363.7" y1="875.3" x2="2363.7" y2="976.4" stroke="#ff0000" stroke-width="1.4" />
<line x1="2356.2" y1="875.3" x2="2371.2" y2="875.3" stroke="#ff0000" stroke-width="2.0" />
<line x1="2356.2" y1="976.4" x2="2371.2" y2="976.4" stroke="#ff0000" stroke-width="2.0" />
<line x1="2374.1" y1="860.2" x2="2374.1" y2="986.4" stroke="#ff0000" stroke-width="1.4" />
<line x1="2366.6" y1="860.2" x2="2381.6" y2="860.2" stroke="#ff0000" stroke-width="2.0" />
<line x1="2366.6" y1="986.4" x2="2381.6" y2="986.4" stroke="#ff0000" stroke-width="2.0" />
<line x1="2384.5" y1="892.7" x2="2384.5" y2="979.1" stroke="#ff0000" stroke-width="1.4" />
<line x1="2377.0" y1="892.7" x2="2392.0" y2="892.7" stroke="#ff0000" stroke-width="2.0" />
<line x1="2377.0" y1="979.1" x2="2392.0" y2="979.1" stroke="#ff0000" stroke-width="2.0" />
<line x1="2394.9" y1="827.6" x2="2394.9" y2="963.9" stroke="#ff0000" stroke-width="1.4" />
<line x1="2387.4" y1="827.6" x2="2402.4" y2="827.6" stroke="#ff0000" stroke-width="2.0" />
<line x1="2387.4" y1="963.9" x2="2402.4" y2="963.9" stroke="#ff0000" stroke-width="2.0" />
<line x1="2405.3" y1="861.5" x2="2405.3" y2="962.2" stroke="#ff0000" stroke-width="1.4" />
<line x1="2397.8" y1="861.5" x2="2412.8" y2="861.5" stroke="#ff0000" stroke-width="2.0" />
<line x1="2397.8" y1="962.2" x2="2412.8" y2="962.2" stroke="#ff0000" stroke-width="2.0" />
<line x1="2415.7" y1="895.7" x2="2415.7" y2="982.2" stroke="#ff0000" stroke-width="1.4" />
<line x1="2408.2" y1="895.7" x2="2423.2" y2="895.7" stroke="#ff0000" stroke-width="2.0" />
<line x1="2408.2" y1="982.2" x2="2423.2" y2="982.2" stroke="#ff0000" stroke-width="2.0" />
<line x1="2426.1" y1="895.4" x2="2426.1" y2="990.5" stroke="#ff0000" stroke-width="1.4" />
<line x1="2418.6" y1="895.4" x2="2433.6" y2="895.4" stroke="#ff0000" stroke-width="2.0" />
<line x1="2418.6" y1="990.5" x2="2433.6" y2="990.5" stroke="#ff0000" stroke-width="2.0" />
<line x1="2436.5" y1="865.7" x2="2436.5" y2="960.8" stroke="#ff0000" stroke-width="1.4" />
<line x1="2429.0" y1="865.7" x2="2444.0" y2="865.7" stroke="#ff0000" stroke-width="2.0" />
<line x1="2429.0" y1="960.8" x2="2444.0" y2="960.8" stroke="#ff0000" stroke-width="2.0" />
<line x1="2446.9" y1="892.0" x2="2446.9" y2="975.8" stroke="#ff0000" stroke-width="1.4" />
<line x1="2439.4" y1="892.0" x2="2454.4" y2="892.0" stroke="#ff0000" stroke-width="2.0" />
<line x1="2439.4" y1="975.8" x2="2454.4" y2="975.8" stroke="#ff0000" stroke-width="2.0" />
<line x1="2457.3" y1="846.0" x2="2457.3" y2="973.6" stroke="#ff0000" stroke-width="1.4" />
<line x1="2449.8" y1="846.0" x2="2464.8" y2="846.0" stroke="#ff0000" stroke-width="2.0" />
<line x1="2449.8" y1="973.6" x2="2464.8" y2="973.6" stroke="#ff0000" stroke-width="2.0" />
<line x1="2467.7" y1="899.9" x2="2467.7" y2="998.9" stroke="#ff0000" stroke-width="1.4" />
<line x1="2460.2" y1="899.9" x2="2475.2" y2="899.9" stroke="#ff0000" stroke-width="2.0" />
<line x1="2460.2" y1="998.9" x2="2475.2" y2="998.9" stroke="#ff0000" stroke-width="2.0" />
<line x1="2478.1" y1="907.4" x2="2478.1" y2="1006.7" stroke="#ff0000" stroke-width="1.4" />
<line x1="2470.6" y1="907.4" x2="2485.6" y2="907.4" stroke="#ff0000" stroke-width="2.0" />
<line x1="2470.6" y1="1006.7" x2="2485.6" y2="1006.7" stroke="#ff0000" stroke-width="2.0" />
<line x1="2488.5" y1="889.0" x2="2488.5" y2="1011.0" stroke="#ff0000" stroke-width="1.4" />
<line x1="2481.0" y1="889.0" x2="2496.0" y2="889.0" stroke="#ff0000" stroke-width="2.0" />
<line x1="2481.0" y1="1011.0" x2="2496.0" y2="1011.0" stroke="#ff0000" stroke-width="2.0" />
<line x1="2498.9" y1="859.2" x2="2498.9" y2="1006.7" stroke="#ff0000" stroke-width="1.4" />
<line x1="2491.4" y1="859.2" x2="2506.4" y2="859.2" stroke="#ff0000" stroke-width="2.0" />
<line x1="2491.4" y1="1006.7" x2="2506.4" y2="1006.7" stroke="#ff0000" stroke-width="2.0" />
<line x1="2509.3" y1="894.7" x2="2509.3" y2="991.2" stroke="#ff0000" stroke-width="1.4" />
<line x1="2501.8" y1="894.7" x2="2516.8" y2="894.7" stroke="#ff0000" stroke-width="2.0" />
<line x1="2501.8" y1="991.2" x2="2516.8" y2="991.2" stroke="#ff0000" stroke-width="2.0" />
<line x1="2519.7" y1="913.1" x2="2519.7" y2="980.9" stroke="#ff0000" stroke-width="1.4" />
<line x1="2512.2" y1="913.1" x2="2527.2" y2="913.1" stroke="#ff0000" stroke-width="2.0" />
<line x1="2512.2" y1="980.9" x2="2527.2" y2="980.9" stroke="#ff0000" stroke-width="2.0" />
<line x1="2530.1" y1="838.5" x2="2530.1" y2="973.1" stroke="#ff0000" stroke-width="1.4" />
<line x1="2522.6" y1="838.5" x2="2537.6" y2="838.5" stroke="#ff0000" stroke-width="2.0" />
<line x1="2522.6" y1="973.1" x2="2537.6" y2="973.1" stroke="#ff0000" stroke-width="2.0" />
<line x1="2540.5" y1="914.6" x2="2540.5" y2="1003.5" stroke="#ff0000" stroke-width="1.4" />
<line x1="2533.0" y1="914.6" x2="2548.0" y2="914.6" stroke="#ff0000" stroke-width="2.0" />
<line x1="2533.0" y1="1003.5" x2="2548.0" y2="1003.5" stroke="#ff0000" stroke-width="2.0" />
<line x1="2550.9" y1="918.8" x2="2550.9" y2="1012.2" stroke="#ff0000" stroke-width="1.4" />
<line x1="2543.4" y1="918.8" x2="2558.4" y2="918.8" stroke="#ff0000" stroke-width="2.0" />
<line x1="2543.4" y1="1012.2" x2="2558.4" y2="1012.2" stroke="#ff0000" stroke-width="2.0" />
<line x1="2561.3" y1="876.2" x2="2561.3" y2="1003.8" stroke="#ff0000" stroke-width="1.4" />
<line x1="2553.8" y1="876.2" x2="2568.8" y2="876.2" stroke="#ff0000" stroke-width="2.0" />
<line x1="2553.8" y1="1003.8" x2="2568.8" y2="1003.8" stroke="#ff0000" stroke-width="2.0" />
<line x1="2571.7" y1="896.1" x2="2571.7" y2="989.8" stroke="#ff0000" stroke-width="1.4" />
<line x1="2564.2" y1="896.1" x2="2579.2" y2="896.1" stroke="#ff0000" stroke-width="2.0" />
<line x1="2564.2" y1="989.8" x2="2579.2" y2="989.8" stroke="#ff0000" stroke-width="2.0" />
<line x1="2582.1" y1="922.0" x2="2582.1" y2="1000.1" stroke="#ff0000" stroke-width="1.4" />
<line x1="2574.6" y1="922.0" x2="2589.6" y2="922.0" stroke="#ff0000" stroke-width="2.0" />
<line x1="2574.6" y1="1000.1" x2="2589.6" y2="1000.1" stroke="#ff0000" stroke-width="2.0" />
<line x1="2592.5" y1="869.9" x2="2592.5" y2="933.6" stroke="#ff0000" stroke-width="1.4" />
<line x1="2585.0" y1="869.9" x2="2600.0" y2="869.9" stroke="#ff0000" stroke-width="2.0" />
<line x1="2585.0" y1="933.6" x2="2600.0" y2="933.6" stroke="#ff0000" stroke-width="2.0" />
<line x1="2602.9" y1="866.5" x2="2602.9" y2="959.2" stroke="#ff0000" stroke-width="1.4" />
<line x1="2595.4" y1="866.5" x2="2610.4" y2="866.5" stroke="#ff0000" stroke-width="2.0" />
<line x1="2595.4" y1="959.2" x2="2610.4" y2="959.2" stroke="#ff0000" stroke-width="2.0" />
<line x1="2613.3" y1="874.2" x2="2613.3" y2="963.5" stroke="#ff0000" stroke-width="1.4" />
<line x1="2605.8" y1="874.2" x2="2620.8" y2="874.2" stroke="#ff0000" stroke-width="2.0" />
<line x1="2605.8" y1="963.5" x2="2620.8" y2="963.5" stroke="#ff0000" stroke-width="2.0" />
<line x1="2623.7" y1="843.7" x2="2623.7" y2="941.8" stroke="#ff0000" stroke-width="1.4" />
<line x1="2616.2" y1="843.7" x2="2631.2" y2="843.7" stroke="#ff0000" stroke-width="2.0" />
<line x1="2616.2" y1="941.8" x2="2631.2" y2="941.8" stroke="#ff0000" stroke-width="2.0" />
<line x1="2634.1" y1="867.8" x2="2634.1" y2="961.9" stroke="#ff0000" stroke-width="1.4" />
<line x1="2626.6" y1="867.8" x2="2641.6" y2="867.8" stroke="#ff0000" stroke-width="2.0" />
<line x1="2626.6" y1="961.9" x2="2641.6" y2="961.9" stroke="#ff0000" stroke-width="2.0" />
<line x1="2644.5" y1="876.4" x2="2644.5" y2="965.4" stroke="#ff0000" stroke-width="1.4" />
<line x1="2637.0" y1="876.4" x2="2652.0" y2="876.4" stroke="#ff0000" stroke-width="2.0" />
<line x1="2637.0" y1="965.4" x2="2652.0" y2="965.4" stroke="#ff0000" stroke-width="2.0" />
<rect x="1731.1" y="665.2" width="35.1" height="32.2" fill="#000"/>
<text transform="translate(1778.2,698.2) scale(1,1.012)" font-size="47.26" font-weight="normal" fill="#000">M1/M3-wt (n = 8)</text>
<rect x="1731.1" y="726.6" width="35.7" height="32.1" fill="#ff0000"/>
<text transform="translate(1778.2,759.6) scale(1,0.988)" font-size="47.07" font-weight="normal" fill="#ff0000">M1/M3-dKO (n = 8)</text>
<text transform="translate(56.1,1526.3) scale(1,1.048)" font-size="100.79" font-weight="normal" fill="#000">C</text>
<text transform="translate(302.5,1608.8) scale(1,1.025)" font-size="65.05" font-weight="normal" fill="#000">M1/M3-wt</text>
<line x1="238.0" y1="1685.4" x2="238.0" y2="2421.0" stroke="#000" stroke-width="5.5" />
<line x1="235.3" y1="2418.3" x2="1225.5" y2="2418.3" stroke="#000" stroke-width="5" />
<line x1="223.7" y1="2353.7" x2="238.0" y2="2353.7" stroke="#000" stroke-width="5.5" />
<text transform="translate(186.5,2368.4) scale(1,1.045)" font-size="45.64" font-weight="normal" fill="#000">0</text>
<line x1="223.7" y1="2131.8" x2="238.0" y2="2131.8" stroke="#000" stroke-width="5.5" />
<text transform="translate(135.8,2146.5) scale(1,1.045)" font-size="45.64" font-weight="normal" fill="#000">500</text>
<line x1="223.7" y1="1909.9" x2="238.0" y2="1909.9" stroke="#000" stroke-width="5.5" />
<text transform="translate(110.3,1924.6) scale(1,1.045)" font-size="45.64" font-weight="normal" fill="#000">1000</text>
<line x1="223.7" y1="1688.0" x2="238.0" y2="1688.0" stroke="#000" stroke-width="5.5" />
<text transform="translate(110.3,1702.7) scale(1,1.045)" font-size="45.64" font-weight="normal" fill="#000">1500</text>
<line x1="230.6" y1="2242.8" x2="238.0" y2="2242.8" stroke="#000" stroke-width="5" />
<line x1="230.6" y1="2020.8" x2="238.0" y2="2020.8" stroke="#000" stroke-width="5" />
<line x1="230.6" y1="1798.9" x2="238.0" y2="1798.9" stroke="#000" stroke-width="5" />
<line x1="237.0" y1="2418.3" x2="237.0" y2="2436.5" stroke="#000" stroke-width="5.5" />
<text transform="translate(223.9,2483.5) scale(1,1.016)" font-size="45.64" font-weight="normal" fill="#000">-5</text>
<line x1="406.5" y1="2418.3" x2="406.5" y2="2436.5" stroke="#000" stroke-width="5.5" />
<text transform="translate(394.2,2483.5) scale(1,1.016)" font-size="45.64" font-weight="normal" fill="#000">0</text>
<line x1="576.0" y1="2418.3" x2="576.0" y2="2436.5" stroke="#000" stroke-width="5.5" />
<text transform="translate(560.5,2483.5) scale(1,1.016)" font-size="45.64" font-weight="normal" fill="#000">5</text>
<line x1="745.5" y1="2418.3" x2="745.5" y2="2436.5" stroke="#000" stroke-width="5.5" />
<text transform="translate(714.7,2483.5) scale(1,1.016)" font-size="45.64" font-weight="normal" fill="#000">10</text>
<line x1="915.0" y1="2418.3" x2="915.0" y2="2436.5" stroke="#000" stroke-width="5.5" />
<text transform="translate(880.8,2483.5) scale(1,1.016)" font-size="45.64" font-weight="normal" fill="#000">15</text>
<line x1="1084.5" y1="2418.3" x2="1084.5" y2="2436.5" stroke="#000" stroke-width="5.5" />
<text transform="translate(1054.4,2483.5) scale(1,1.016)" font-size="45.64" font-weight="normal" fill="#000">20</text>
<text transform="translate(582.2,2542.5) scale(1,0.993)" font-size="67.85" font-weight="normal" fill="#000">Time (min)</text>
<text transform="translate(88.1,2248.8) rotate(-90) scale(1,1.035)" font-size="59.11" font-weight="normal" fill="#000">MF-EPSC (pA)</text>
<text transform="translate(1090.9,2158.5) scale(1,0.995)" font-size="36.61" font-weight="normal" fill="#000">DCG IV</text>
<line x1="1086.0" y1="2176.3" x2="1218.0" y2="2176.3" stroke="#000" stroke-width="7" />
<path d="M414.2,2353.2 L430.2,2408.5 L403.7,2408.5 Z" fill="#000"/>
<text transform="translate(438.3,2398.9) scale(1,1.018)" font-size="46.19" font-weight="normal" fill="#000">HFS</text>
<rect x="236.7" y="2304.5" width="14.5" height="14.5" fill="#000"/>
<rect x="242.3" y="2254.8" width="14.5" height="14.5" fill="#000"/>
<rect x="247.9" y="2343.9" width="14.5" height="14.5" fill="#000"/>
<rect x="253.5" y="2298.3" width="14.5" height="14.5" fill="#000"/>
<rect x="259.1" y="2190.2" width="14.5" height="14.5" fill="#000"/>
<rect x="264.7" y="2301.4" width="14.5" height="14.5" fill="#000"/>
<rect x="270.3" y="2320.6" width="14.5" height="14.5" fill="#000"/>
<rect x="275.9" y="2281.8" width="14.5" height="14.5" fill="#000"/>
<rect x="281.5" y="2299.5" width="14.5" height="14.5" fill="#000"/>
<rect x="287.1" y="2295.8" width="14.5" height="14.5" fill="#000"/>
<rect x="292.7" y="2331.5" width="14.5" height="14.5" fill="#000"/>
<rect x="298.3" y="2280.2" width="14.5" height="14.5" fill="#000"/>
<rect x="303.9" y="2258.5" width="14.5" height="14.5" fill="#000"/>
<rect x="309.5" y="2343.9" width="14.5" height="14.5" fill="#000"/>
<rect x="315.1" y="2275.6" width="14.5" height="14.5" fill="#000"/>
<rect x="320.7" y="2321.2" width="14.5" height="14.5" fill="#000"/>
<rect x="326.3" y="2291.1" width="14.5" height="14.5" fill="#000"/>
<rect x="331.9" y="2288.0" width="14.5" height="14.5" fill="#000"/>
<rect x="337.5" y="2343.9" width="14.5" height="14.5" fill="#000"/>
<rect x="343.1" y="2299.5" width="14.5" height="14.5" fill="#000"/>
<rect x="348.7" y="2334.6" width="14.5" height="14.5" fill="#000"/>
<rect x="354.3" y="2280.2" width="14.5" height="14.5" fill="#000"/>
<rect x="359.9" y="2333.0" width="14.5" height="14.5" fill="#000"/>
<rect x="365.5" y="2289.6" width="14.5" height="14.5" fill="#000"/>
<rect x="371.1" y="2261.0" width="14.5" height="14.5" fill="#000"/>
<rect x="376.7" y="2335.5" width="14.5" height="14.5" fill="#000"/>
<rect x="382.3" y="2299.5" width="14.5" height="14.5" fill="#000"/>
<rect x="387.9" y="2269.4" width="14.5" height="14.5" fill="#000"/>
<rect x="393.5" y="2298.9" width="14.5" height="14.5" fill="#000"/>
<rect x="399.1" y="2327.5" width="14.5" height="14.5" fill="#000"/>
<rect x="404.7" y="1995.1" width="14.5" height="14.5" fill="#000"/>
<rect x="410.3" y="2002.3" width="14.5" height="14.5" fill="#000"/>
<rect x="415.9" y="2011.6" width="14.5" height="14.5" fill="#000"/>
<rect x="421.5" y="2037.4" width="14.5" height="14.5" fill="#000"/>
<rect x="427.1" y="2061.3" width="14.5" height="14.5" fill="#000"/>
<rect x="432.7" y="2072.8" width="14.5" height="14.5" fill="#000"/>
<rect x="438.3" y="2198.9" width="14.5" height="14.5" fill="#000"/>
<rect x="443.9" y="2107.9" width="14.5" height="14.5" fill="#000"/>
<rect x="449.5" y="2087.7" width="14.5" height="14.5" fill="#000"/>
<rect x="455.1" y="2100.1" width="14.5" height="14.5" fill="#000"/>
<rect x="460.7" y="2179.3" width="14.5" height="14.5" fill="#000"/>
<rect x="466.3" y="2087.0" width="14.5" height="14.5" fill="#000"/>
<rect x="471.9" y="2159.1" width="14.5" height="14.5" fill="#000"/>
<rect x="477.5" y="2160.7" width="14.5" height="14.5" fill="#000"/>
<rect x="483.1" y="2206.3" width="14.5" height="14.5" fill="#000"/>
<rect x="488.7" y="2144.2" width="14.5" height="14.5" fill="#000"/>
<rect x="494.3" y="2166.9" width="14.5" height="14.5" fill="#000"/>
<rect x="499.9" y="2170.0" width="14.5" height="14.5" fill="#000"/>
<rect x="505.5" y="2087.0" width="14.5" height="14.5" fill="#000"/>
<rect x="511.1" y="2291.1" width="14.5" height="14.5" fill="#000"/>
<rect x="516.7" y="2116.2" width="14.5" height="14.5" fill="#000"/>
<rect x="522.3" y="2190.2" width="14.5" height="14.5" fill="#000"/>
<rect x="527.9" y="2187.1" width="14.5" height="14.5" fill="#000"/>
<rect x="533.5" y="2225.0" width="14.5" height="14.5" fill="#000"/>
<rect x="539.1" y="2306.6" width="14.5" height="14.5" fill="#000"/>
<rect x="544.7" y="2308.2" width="14.5" height="14.5" fill="#000"/>
<rect x="555.9" y="2135.8" width="14.5" height="14.5" fill="#000"/>
<rect x="561.5" y="2250.7" width="14.5" height="14.5" fill="#000"/>
<rect x="567.1" y="2215.6" width="14.5" height="14.5" fill="#000"/>
<rect x="572.7" y="2306.6" width="14.5" height="14.5" fill="#000"/>
<rect x="578.3" y="2308.2" width="14.5" height="14.5" fill="#000"/>
<rect x="583.9" y="2242.3" width="14.5" height="14.5" fill="#000"/>
<rect x="589.5" y="2250.1" width="14.5" height="14.5" fill="#000"/>
<rect x="595.1" y="2215.0" width="14.5" height="14.5" fill="#000"/>
<rect x="600.7" y="2291.1" width="14.5" height="14.5" fill="#000"/>
<rect x="606.3" y="2242.3" width="14.5" height="14.5" fill="#000"/>
<rect x="611.9" y="2311.3" width="14.5" height="14.5" fill="#000"/>
<rect x="617.5" y="2207.3" width="14.5" height="14.5" fill="#000"/>
<rect x="623.1" y="2247.6" width="14.5" height="14.5" fill="#000"/>
<rect x="628.7" y="2245.5" width="14.5" height="14.5" fill="#000"/>
<rect x="634.3" y="2231.2" width="14.5" height="14.5" fill="#000"/>
<rect x="639.9" y="2165.3" width="14.5" height="14.5" fill="#000"/>
<rect x="645.5" y="2254.8" width="14.5" height="14.5" fill="#000"/>
<rect x="651.1" y="2181.5" width="14.5" height="14.5" fill="#000"/>
<rect x="656.7" y="2272.5" width="14.5" height="14.5" fill="#000"/>
<rect x="662.3" y="2182.4" width="14.5" height="14.5" fill="#000"/>
<rect x="667.9" y="2223.7" width="14.5" height="14.5" fill="#000"/>
<rect x="673.5" y="2172.2" width="14.5" height="14.5" fill="#000"/>
<rect x="679.1" y="2205.1" width="14.5" height="14.5" fill="#000"/>
<rect x="684.7" y="2288.9" width="14.5" height="14.5" fill="#000"/>
<rect x="690.3" y="2259.1" width="14.5" height="14.5" fill="#000"/>
<rect x="695.9" y="2320.6" width="14.5" height="14.5" fill="#000"/>
<rect x="701.5" y="2283.3" width="14.5" height="14.5" fill="#000"/>
<rect x="707.1" y="2210.4" width="14.5" height="14.5" fill="#000"/>
<rect x="712.7" y="2287.1" width="14.5" height="14.5" fill="#000"/>
<rect x="719.0" y="2288.6" width="14.5" height="14.5" fill="#000"/>
<rect x="719.6" y="2321.2" width="14.5" height="14.5" fill="#000"/>
<rect x="726.7" y="2276.2" width="14.5" height="14.5" fill="#000"/>
<rect x="732.0" y="2288.6" width="14.5" height="14.5" fill="#000"/>
<rect x="737.6" y="2259.1" width="14.5" height="14.5" fill="#000"/>
<rect x="743.2" y="2224.9" width="14.5" height="14.5" fill="#000"/>
<rect x="748.5" y="2279.3" width="14.5" height="14.5" fill="#000"/>
<rect x="754.7" y="2237.4" width="14.5" height="14.5" fill="#000"/>
<rect x="760.0" y="2200.7" width="14.5" height="14.5" fill="#000"/>
<rect x="765.6" y="2301.0" width="14.5" height="14.5" fill="#000"/>
<rect x="771.8" y="2277.7" width="14.5" height="14.5" fill="#000"/>
<rect x="782.6" y="2276.2" width="14.5" height="14.5" fill="#000"/>
<rect x="788.8" y="2290.2" width="14.5" height="14.5" fill="#000"/>
<rect x="795.1" y="2290.2" width="14.5" height="14.5" fill="#000"/>
<rect x="800.3" y="2260.7" width="14.5" height="14.5" fill="#000"/>
<rect x="805.3" y="2313.5" width="14.5" height="14.5" fill="#000"/>
<rect x="811.5" y="2243.6" width="14.5" height="14.5" fill="#000"/>
<rect x="816.8" y="2224.0" width="14.5" height="14.5" fill="#000"/>
<rect x="823.0" y="2257.6" width="14.5" height="14.5" fill="#000"/>
<rect x="829.2" y="2271.5" width="14.5" height="14.5" fill="#000"/>
<rect x="835.4" y="2273.1" width="14.5" height="14.5" fill="#000"/>
<rect x="839.5" y="2302.6" width="14.5" height="14.5" fill="#000"/>
<rect x="844.8" y="2274.6" width="14.5" height="14.5" fill="#000"/>
<rect x="851.0" y="2270.0" width="14.5" height="14.5" fill="#000"/>
<rect x="856.2" y="2214.1" width="14.5" height="14.5" fill="#000"/>
<rect x="861.8" y="2284.0" width="14.5" height="14.5" fill="#000"/>
<rect x="868.0" y="2296.4" width="14.5" height="14.5" fill="#000"/>
<rect x="873.6" y="2302.6" width="14.5" height="14.5" fill="#000"/>
<rect x="880.5" y="2302.6" width="14.5" height="14.5" fill="#000"/>
<rect x="885.1" y="2273.1" width="14.5" height="14.5" fill="#000"/>
<rect x="891.3" y="2271.5" width="14.5" height="14.5" fill="#000"/>
<rect x="899.1" y="2273.1" width="14.5" height="14.5" fill="#000"/>
<rect x="907.8" y="2277.7" width="14.5" height="14.5" fill="#000"/>
<rect x="912.5" y="2242.0" width="14.5" height="14.5" fill="#000"/>
<rect x="917.7" y="2284.0" width="14.5" height="14.5" fill="#000"/>
<rect x="924.0" y="2307.3" width="14.5" height="14.5" fill="#000"/>
<rect x="930.2" y="2284.0" width="14.5" height="14.5" fill="#000"/>
<rect x="934.8" y="2193.0" width="14.5" height="14.5" fill="#000"/>
<rect x="941.0" y="2299.5" width="14.5" height="14.5" fill="#000"/>
<rect x="946.3" y="2256.0" width="14.5" height="14.5" fill="#000"/>
<rect x="951.9" y="2342.3" width="14.5" height="14.5" fill="#000"/>
<rect x="958.1" y="2304.1" width="14.5" height="14.5" fill="#000"/>
<rect x="963.7" y="2231.2" width="14.5" height="14.5" fill="#000"/>
<rect x="969.9" y="2299.5" width="14.5" height="14.5" fill="#000"/>
<rect x="975.2" y="2224.9" width="14.5" height="14.5" fill="#000"/>
<rect x="981.4" y="2302.6" width="14.5" height="14.5" fill="#000"/>
<rect x="986.1" y="2274.6" width="14.5" height="14.5" fill="#000"/>
<rect x="992.3" y="2307.3" width="14.5" height="14.5" fill="#000"/>
<rect x="997.9" y="2274.6" width="14.5" height="14.5" fill="#000"/>
<rect x="1003.2" y="2290.2" width="14.5" height="14.5" fill="#000"/>
<rect x="1009.4" y="2279.3" width="14.5" height="14.5" fill="#000"/>
<rect x="1013.4" y="2214.1" width="14.5" height="14.5" fill="#000"/>
<rect x="1019.6" y="2326.8" width="14.5" height="14.5" fill="#000"/>
<rect x="1024.9" y="2261.6" width="14.5" height="14.5" fill="#000"/>
<rect x="1030.2" y="2284.0" width="14.5" height="14.5" fill="#000"/>
<rect x="1037.3" y="2273.1" width="14.5" height="14.5" fill="#000"/>
<rect x="1042.0" y="2256.0" width="14.5" height="14.5" fill="#000"/>
<rect x="1048.2" y="2337.4" width="14.5" height="14.5" fill="#000"/>
<rect x="1048.2" y="2252.9" width="14.5" height="14.5" fill="#000"/>
<rect x="1054.4" y="2284.0" width="14.5" height="14.5" fill="#000"/>
<rect x="1054.4" y="2307.3" width="14.5" height="14.5" fill="#000"/>
<rect x="1059.1" y="2277.7" width="14.5" height="14.5" fill="#000"/>
<rect x="1065.3" y="2226.5" width="14.5" height="14.5" fill="#000"/>
<rect x="1071.5" y="2293.3" width="14.5" height="14.5" fill="#000"/>
<rect x="1076.8" y="2284.0" width="14.5" height="14.5" fill="#000"/>
<rect x="1081.7" y="2241.4" width="14.5" height="14.5" fill="#000"/>
<rect x="1087.0" y="2286.4" width="14.5" height="14.5" fill="#000"/>
<rect x="1092.3" y="2333.0" width="14.5" height="14.5" fill="#000"/>
<rect x="1099.4" y="2301.0" width="14.5" height="14.5" fill="#000"/>
<rect x="1105.7" y="2311.9" width="14.5" height="14.5" fill="#000"/>
<rect x="1110.3" y="2322.8" width="14.5" height="14.5" fill="#000"/>
<rect x="1117.1" y="2319.7" width="14.5" height="14.5" fill="#000"/>
<rect x="1121.2" y="2293.9" width="14.5" height="14.5" fill="#000"/>
<rect x="1127.4" y="2307.3" width="14.5" height="14.5" fill="#000"/>
<rect x="1133.6" y="2311.9" width="14.5" height="14.5" fill="#000"/>
<rect x="1139.8" y="2325.0" width="14.5" height="14.5" fill="#000"/>
<rect x="1144.5" y="2338.3" width="14.5" height="14.5" fill="#000"/>
<rect x="1150.7" y="2341.4" width="14.5" height="14.5" fill="#000"/>
<rect x="1155.4" y="2341.4" width="14.5" height="14.5" fill="#000"/>
<rect x="1161.6" y="2339.9" width="14.5" height="14.5" fill="#000"/>
<rect x="1166.8" y="2322.8" width="14.5" height="14.5" fill="#000"/>
<rect x="1172.4" y="2325.9" width="14.5" height="14.5" fill="#000"/>
<rect x="1178.0" y="2331.2" width="14.5" height="14.5" fill="#000"/>
<rect x="1183.3" y="2339.9" width="14.5" height="14.5" fill="#000"/>
<rect x="1189.5" y="2340.5" width="14.5" height="14.5" fill="#000"/>
<rect x="1195.7" y="2341.4" width="14.5" height="14.5" fill="#000"/>
<rect x="1201.9" y="2341.4" width="14.5" height="14.5" fill="#000"/>
<text transform="translate(1451.7,1474.9) scale(1,1.028)" font-size="102.18" font-weight="normal" fill="#000">D</text>
<text transform="translate(1751.6,1603.3) scale(1,1.009)" font-size="65.51" font-weight="normal" fill="#ff0000">M1/M3-dKO</text>
<line x1="1708.4" y1="1688.0" x2="1708.4" y2="2421.0" stroke="#000" stroke-width="5.4" />
<line x1="1705.7" y1="2418.5" x2="2702.8" y2="2418.5" stroke="#000" stroke-width="5" />
<line x1="1690.5" y1="2364.8" x2="1708.4" y2="2364.8" stroke="#000" stroke-width="5.5" />
<text transform="translate(1651.8,2379.5) scale(1,1.050)" font-size="45.40" font-weight="normal" fill="#000">0</text>
<line x1="1690.5" y1="2139.9" x2="1708.4" y2="2139.9" stroke="#000" stroke-width="5.5" />
<text transform="translate(1601.4,2154.6) scale(1,1.050)" font-size="45.40" font-weight="normal" fill="#000">500</text>
<line x1="1690.5" y1="1915.1" x2="1708.4" y2="1915.1" stroke="#000" stroke-width="5.5" />
<text transform="translate(1576.0,1929.8) scale(1,1.050)" font-size="45.40" font-weight="normal" fill="#000">1000</text>
<line x1="1690.5" y1="1690.2" x2="1708.4" y2="1690.2" stroke="#000" stroke-width="5.5" />
<text transform="translate(1576.0,1704.9) scale(1,1.050)" font-size="45.40" font-weight="normal" fill="#000">1500</text>
<line x1="1700.6" y1="2252.4" x2="1708.4" y2="2252.4" stroke="#000" stroke-width="5" />
<line x1="1700.6" y1="2027.5" x2="1708.4" y2="2027.5" stroke="#000" stroke-width="5" />
<line x1="1700.6" y1="1802.6" x2="1708.4" y2="1802.6" stroke="#000" stroke-width="5" />
<line x1="1709.2" y1="2418.5" x2="1709.2" y2="2435.6" stroke="#000" stroke-width="5.5" />
<text transform="translate(1692.1,2478.5) scale(1,1.021)" font-size="45.40" font-weight="normal" fill="#000">-5</text>
<line x1="1877.4" y1="2418.5" x2="1877.4" y2="2435.6" stroke="#000" stroke-width="5.5" />
<text transform="translate(1862.2,2478.5) scale(1,1.021)" font-size="45.40" font-weight="normal" fill="#000">0</text>
<line x1="2045.6" y1="2418.5" x2="2045.6" y2="2435.6" stroke="#000" stroke-width="5.5" />
<text transform="translate(2029.4,2478.5) scale(1,1.021)" font-size="45.40" font-weight="normal" fill="#000">5</text>
<line x1="2213.8" y1="2418.5" x2="2213.8" y2="2435.6" stroke="#000" stroke-width="5.5" />
<text transform="translate(2182.8,2478.5) scale(1,1.021)" font-size="45.40" font-weight="normal" fill="#000">10</text>
<line x1="2382.0" y1="2418.5" x2="2382.0" y2="2435.6" stroke="#000" stroke-width="5.5" />
<text transform="translate(2350.7,2478.5) scale(1,1.021)" font-size="45.40" font-weight="normal" fill="#000">15</text>
<line x1="2550.2" y1="2418.5" x2="2550.2" y2="2435.6" stroke="#000" stroke-width="5.5" />
<text transform="translate(2513.6,2478.5) scale(1,1.021)" font-size="45.40" font-weight="normal" fill="#000">20</text>
<text transform="translate(2057.0,2545.2) scale(1,0.995)" font-size="67.70" font-weight="normal" fill="#000">Time (min)</text>
<text transform="translate(1558.7,2211.4) rotate(-90) scale(1,1.033)" font-size="59.22" font-weight="normal" fill="#000">MF-EPSC (pA)</text>
<text transform="translate(2553.8,2083.6) scale(1,0.982)" font-size="37.11" font-weight="normal" fill="#000">DCG IV</text>
<line x1="2550.0" y1="2106.0" x2="2683.5" y2="2106.0" stroke="#000" stroke-width="7" />
<path d="M1883.6,2355.1 L1898.8,2407.1 L1871.9,2407.1 Z" fill="#000"/>
<text transform="translate(1905.6,2395.7) scale(1,1.010)" font-size="45.81" font-weight="normal" fill="#000">HFS</text>
<rect x="1707.5" y="2317.5" width="16.0" height="16.0" fill="#ff0000"/>
<rect x="1711.3" y="2281.8" width="16.0" height="16.0" fill="#ff0000"/>
<rect x="1716.8" y="2265.6" width="16.0" height="16.0" fill="#ff0000"/>
<rect x="1722.4" y="2300.4" width="16.0" height="16.0" fill="#ff0000"/>
<rect x="1728.7" y="2303.5" width="16.0" height="16.0" fill="#ff0000"/>
<rect x="1733.9" y="2348.5" width="16.0" height="16.0" fill="#ff0000"/>
<rect x="1739.2" y="2303.5" width="16.0" height="16.0" fill="#ff0000"/>
<rect x="1744.8" y="2323.7" width="16.0" height="16.0" fill="#ff0000"/>
<rect x="1750.4" y="2309.7" width="16.0" height="16.0" fill="#ff0000"/>
<rect x="1756.6" y="2213.4" width="16.0" height="16.0" fill="#ff0000"/>
<rect x="1761.0" y="2309.7" width="16.0" height="16.0" fill="#ff0000"/>
<rect x="1766.5" y="2348.5" width="16.0" height="16.0" fill="#ff0000"/>
<rect x="1772.1" y="2292.6" width="16.0" height="16.0" fill="#ff0000"/>
<rect x="1779.0" y="2294.2" width="16.0" height="16.0" fill="#ff0000"/>
<rect x="1783.6" y="2317.5" width="16.0" height="16.0" fill="#ff0000"/>
<rect x="1789.8" y="2319.0" width="16.0" height="16.0" fill="#ff0000"/>
<rect x="1796.1" y="2320.6" width="16.0" height="16.0" fill="#ff0000"/>
<rect x="1800.7" y="2294.2" width="16.0" height="16.0" fill="#ff0000"/>
<rect x="1806.9" y="2284.9" width="16.0" height="16.0" fill="#ff0000"/>
<rect x="1812.5" y="2314.4" width="16.0" height="16.0" fill="#ff0000"/>
<rect x="1817.8" y="2270.9" width="16.0" height="16.0" fill="#ff0000"/>
<rect x="1824.0" y="2331.5" width="16.0" height="16.0" fill="#ff0000"/>
<rect x="1828.7" y="2322.1" width="16.0" height="16.0" fill="#ff0000"/>
<rect x="1834.3" y="2353.2" width="16.0" height="16.0" fill="#ff0000"/>
<rect x="1840.2" y="2298.8" width="16.0" height="16.0" fill="#ff0000"/>
<rect x="1845.7" y="2312.8" width="16.0" height="16.0" fill="#ff0000"/>
<rect x="1852.0" y="2319.0" width="16.0" height="16.0" fill="#ff0000"/>
<rect x="1862.2" y="2297.3" width="16.0" height="16.0" fill="#ff0000"/>
<rect x="1867.5" y="2312.8" width="16.0" height="16.0" fill="#ff0000"/>
<rect x="1873.7" y="1815.9" width="16.0" height="16.0" fill="#ff0000"/>
<rect x="1879.3" y="1982.0" width="16.0" height="16.0" fill="#ff0000"/>
<rect x="1885.2" y="1784.8" width="16.0" height="16.0" fill="#ff0000"/>
<rect x="1890.8" y="1752.2" width="16.0" height="16.0" fill="#ff0000"/>
<rect x="1896.4" y="1834.5" width="16.0" height="16.0" fill="#ff0000"/>
<rect x="1902.3" y="1909.0" width="16.0" height="16.0" fill="#ff0000"/>
<rect x="1907.9" y="1913.7" width="16.0" height="16.0" fill="#ff0000"/>
<rect x="1913.5" y="2083.0" width="16.0" height="16.0" fill="#ff0000"/>
<rect x="1918.7" y="1822.1" width="16.0" height="16.0" fill="#ff0000"/>
<rect x="1924.3" y="1902.8" width="16.0" height="16.0" fill="#ff0000"/>
<rect x="1929.6" y="1978.9" width="16.0" height="16.0" fill="#ff0000"/>
<rect x="1935.2" y="1899.7" width="16.0" height="16.0" fill="#ff0000"/>
<rect x="1941.4" y="1856.2" width="16.0" height="16.0" fill="#ff0000"/>
<rect x="1947.3" y="1949.4" width="16.0" height="16.0" fill="#ff0000"/>
<rect x="1952.9" y="1961.8" width="16.0" height="16.0" fill="#ff0000"/>
<rect x="1958.5" y="1968.7" width="16.0" height="16.0" fill="#ff0000"/>
<rect x="1963.2" y="1839.2" width="16.0" height="16.0" fill="#ff0000"/>
<rect x="1969.4" y="2059.7" width="16.0" height="16.0" fill="#ff0000"/>
<rect x="1974.6" y="1896.0" width="16.0" height="16.0" fill="#ff0000"/>
<rect x="1980.9" y="1969.6" width="16.0" height="16.0" fill="#ff0000"/>
<rect x="1985.5" y="1963.4" width="16.0" height="16.0" fill="#ff0000"/>
<rect x="1991.7" y="1906.6" width="16.0" height="16.0" fill="#ff0000"/>
<rect x="1996.4" y="1974.3" width="16.0" height="16.0" fill="#ff0000"/>
<rect x="2002.6" y="1904.4" width="16.0" height="16.0" fill="#ff0000"/>
<rect x="2008.8" y="1979.9" width="16.0" height="16.0" fill="#ff0000"/>
<rect x="2015.0" y="1903.4" width="16.0" height="16.0" fill="#ff0000"/>
<rect x="2025.0" y="1908.4" width="16.0" height="16.0" fill="#ff0000"/>
<rect x="2030.6" y="1954.1" width="16.0" height="16.0" fill="#ff0000"/>
<rect x="2036.1" y="2128.0" width="16.0" height="16.0" fill="#ff0000"/>
<rect x="2042.4" y="1891.3" width="16.0" height="16.0" fill="#ff0000"/>
<rect x="2047.6" y="1929.2" width="16.0" height="16.0" fill="#ff0000"/>
<rect x="2053.2" y="2076.1" width="16.0" height="16.0" fill="#ff0000"/>
<rect x="2058.5" y="2046.6" width="16.0" height="16.0" fill="#ff0000"/>
<rect x="2064.1" y="1968.1" width="16.0" height="16.0" fill="#ff0000"/>
<rect x="2069.4" y="1975.8" width="16.0" height="16.0" fill="#ff0000"/>
<rect x="2075.0" y="1935.4" width="16.0" height="16.0" fill="#ff0000"/>
<rect x="2075.6" y="2213.4" width="16.0" height="16.0" fill="#ff0000"/>
<rect x="2081.8" y="1984.2" width="16.0" height="16.0" fill="#ff0000"/>
<rect x="2087.1" y="2024.6" width="16.0" height="16.0" fill="#ff0000"/>
<rect x="2092.7" y="2007.8" width="16.0" height="16.0" fill="#ff0000"/>
<rect x="2098.3" y="1864.0" width="16.0" height="16.0" fill="#ff0000"/>
<rect x="2103.5" y="1997.6" width="16.0" height="16.0" fill="#ff0000"/>
<rect x="2108.8" y="1984.2" width="16.0" height="16.0" fill="#ff0000"/>
<rect x="2116.0" y="2024.0" width="16.0" height="16.0" fill="#ff0000"/>
<rect x="2120.0" y="2010.0" width="16.0" height="16.0" fill="#ff0000"/>
<rect x="2126.2" y="1990.4" width="16.0" height="16.0" fill="#ff0000"/>
<rect x="2131.5" y="2077.4" width="16.0" height="16.0" fill="#ff0000"/>
<rect x="2137.7" y="2094.8" width="16.0" height="16.0" fill="#ff0000"/>
<rect x="2141.7" y="1987.3" width="16.0" height="16.0" fill="#ff0000"/>
<rect x="2148.6" y="1988.2" width="16.0" height="16.0" fill="#ff0000"/>
<rect x="2154.8" y="2185.5" width="16.0" height="16.0" fill="#ff0000"/>
<rect x="2159.4" y="2062.8" width="16.0" height="16.0" fill="#ff0000"/>
<rect x="2164.7" y="2013.1" width="16.0" height="16.0" fill="#ff0000"/>
<rect x="2170.3" y="2014.6" width="16.0" height="16.0" fill="#ff0000"/>
<rect x="2176.5" y="2076.1" width="16.0" height="16.0" fill="#ff0000"/>
<rect x="2182.7" y="2003.8" width="16.0" height="16.0" fill="#ff0000"/>
<rect x="2185.1" y="2004.4" width="16.0" height="16.0" fill="#ff0000"/>
<rect x="2205.3" y="2033.9" width="16.0" height="16.0" fill="#ff0000"/>
<rect x="2220.8" y="2015.3" width="16.0" height="16.0" fill="#ff0000"/>
<rect x="2191.3" y="2054.1" width="16.0" height="16.0" fill="#ff0000"/>
<rect x="2182.0" y="2075.9" width="16.0" height="16.0" fill="#ff0000"/>
<rect x="2210.6" y="2066.5" width="16.0" height="16.0" fill="#ff0000"/>
<rect x="2216.2" y="2055.7" width="16.0" height="16.0" fill="#ff0000"/>
<rect x="2227.0" y="2062.8" width="16.0" height="16.0" fill="#ff0000"/>
<rect x="2244.1" y="2066.5" width="16.0" height="16.0" fill="#ff0000"/>
<rect x="2199.1" y="2091.4" width="16.0" height="16.0" fill="#ff0000"/>
<rect x="2233.2" y="2130.2" width="16.0" height="16.0" fill="#ff0000"/>
<rect x="2250.3" y="2139.5" width="16.0" height="16.0" fill="#ff0000"/>
<rect x="2265.2" y="2142.6" width="16.0" height="16.0" fill="#ff0000"/>
<rect x="2237.9" y="2169.0" width="16.0" height="16.0" fill="#ff0000"/>
<rect x="2261.2" y="2211.0" width="16.0" height="16.0" fill="#ff0000"/>
<rect x="2282.9" y="2075.9" width="16.0" height="16.0" fill="#ff0000"/>
<rect x="2276.7" y="2092.9" width="16.0" height="16.0" fill="#ff0000"/>
<rect x="2272.1" y="2106.9" width="16.0" height="16.0" fill="#ff0000"/>
<rect x="2289.2" y="2211.0" width="16.0" height="16.0" fill="#ff0000"/>
<rect x="2300.0" y="2195.4" width="16.0" height="16.0" fill="#ff0000"/>
<rect x="2309.3" y="2198.5" width="16.0" height="16.0" fill="#ff0000"/>
<rect x="2293.8" y="2140.5" width="16.0" height="16.0" fill="#ff0000"/>
<rect x="2306.2" y="2113.1" width="16.0" height="16.0" fill="#ff0000"/>
<rect x="2317.1" y="2086.7" width="16.0" height="16.0" fill="#ff0000"/>
<rect x="2324.9" y="2152.0" width="16.0" height="16.0" fill="#ff0000"/>
<rect x="2333.3" y="2267.8" width="16.0" height="16.0" fill="#ff0000"/>
<rect x="2339.8" y="2102.3" width="16.0" height="16.0" fill="#ff0000"/>
<rect x="2345.1" y="2196.4" width="16.0" height="16.0" fill="#ff0000"/>
<rect x="2351.3" y="2173.7" width="16.0" height="16.0" fill="#ff0000"/>
<rect x="2357.5" y="2082.1" width="16.0" height="16.0" fill="#ff0000"/>
<rect x="2362.1" y="2077.4" width="16.0" height="16.0" fill="#ff0000"/>
<rect x="2367.7" y="2175.3" width="16.0" height="16.0" fill="#ff0000"/>
<rect x="2373.0" y="2203.2" width="16.0" height="16.0" fill="#ff0000"/>
<rect x="2379.2" y="2195.4" width="16.0" height="16.0" fill="#ff0000"/>
<rect x="2383.9" y="2044.8" width="16.0" height="16.0" fill="#ff0000"/>
<rect x="2389.5" y="2132.4" width="16.0" height="16.0" fill="#ff0000"/>
<rect x="2395.7" y="2197.0" width="16.0" height="16.0" fill="#ff0000"/>
<rect x="2401.0" y="2091.4" width="16.0" height="16.0" fill="#ff0000"/>
<rect x="2405.6" y="2159.7" width="16.0" height="16.0" fill="#ff0000"/>
<rect x="2414.9" y="2205.7" width="16.0" height="16.0" fill="#ff0000"/>
<rect x="2422.7" y="2158.2" width="16.0" height="16.0" fill="#ff0000"/>
<rect x="2428.9" y="2265.3" width="16.0" height="16.0" fill="#ff0000"/>
<rect x="2433.6" y="2156.6" width="16.0" height="16.0" fill="#ff0000"/>
<rect x="2439.8" y="2140.5" width="16.0" height="16.0" fill="#ff0000"/>
<rect x="2445.4" y="2165.9" width="16.0" height="16.0" fill="#ff0000"/>
<rect x="2455.3" y="2184.6" width="16.0" height="16.0" fill="#ff0000"/>
<rect x="2462.5" y="2130.2" width="16.0" height="16.0" fill="#ff0000"/>
<rect x="2467.7" y="2144.2" width="16.0" height="16.0" fill="#ff0000"/>
<rect x="2474.0" y="2209.4" width="16.0" height="16.0" fill="#ff0000"/>
<rect x="2478.6" y="2221.8" width="16.0" height="16.0" fill="#ff0000"/>
<rect x="2489.5" y="2217.2" width="16.0" height="16.0" fill="#ff0000"/>
<rect x="2495.7" y="2237.4" width="16.0" height="16.0" fill="#ff0000"/>
<rect x="2501.9" y="2198.5" width="16.0" height="16.0" fill="#ff0000"/>
<rect x="2506.6" y="2138.6" width="16.0" height="16.0" fill="#ff0000"/>
<rect x="2512.8" y="2266.9" width="16.0" height="16.0" fill="#ff0000"/>
<rect x="2517.4" y="2144.2" width="16.0" height="16.0" fill="#ff0000"/>
<rect x="2519.0" y="2220.3" width="16.0" height="16.0" fill="#ff0000"/>
<rect x="2523.7" y="2190.8" width="16.0" height="16.0" fill="#ff0000"/>
<rect x="2534.5" y="2215.6" width="16.0" height="16.0" fill="#ff0000"/>
<rect x="2542.3" y="2271.5" width="16.0" height="16.0" fill="#ff0000"/>
<rect x="2547.0" y="2259.1" width="16.0" height="16.0" fill="#ff0000"/>
<rect x="2551.6" y="2238.9" width="16.0" height="16.0" fill="#ff0000"/>
<rect x="2557.8" y="2273.1" width="16.0" height="16.0" fill="#ff0000"/>
<rect x="2562.5" y="2287.1" width="16.0" height="16.0" fill="#ff0000"/>
<rect x="2568.7" y="2265.3" width="16.0" height="16.0" fill="#ff0000"/>
<rect x="2574.9" y="2297.9" width="16.0" height="16.0" fill="#ff0000"/>
<rect x="2581.1" y="2305.7" width="16.0" height="16.0" fill="#ff0000"/>
<rect x="2588.9" y="2299.5" width="16.0" height="16.0" fill="#ff0000"/>
<rect x="2595.1" y="2330.6" width="16.0" height="16.0" fill="#ff0000"/>
<rect x="2602.9" y="2308.8" width="16.0" height="16.0" fill="#ff0000"/>
<rect x="2607.5" y="2339.9" width="16.0" height="16.0" fill="#ff0000"/>
<rect x="2619.9" y="2353.8" width="16.0" height="16.0" fill="#ff0000"/>
<rect x="2627.7" y="2329.0" width="16.0" height="16.0" fill="#ff0000"/>
<rect x="2635.5" y="2344.5" width="16.0" height="16.0" fill="#ff0000"/>
<rect x="2644.8" y="2353.8" width="16.0" height="16.0" fill="#ff0000"/>
<rect x="2654.1" y="2352.3" width="16.0" height="16.0" fill="#ff0000"/>
<rect x="2669.6" y="2353.8" width="16.0" height="16.0" fill="#ff0000"/>
<text transform="translate(53.2,2740.4) scale(1,1.049)" font-size="98.90" font-weight="normal" fill="#000">E</text>
<line x1="243.0" y1="2859.8" x2="243.0" y2="3627.9" stroke="#000" stroke-width="5.8" />
<line x1="240.1" y1="3625.5" x2="1193.9" y2="3625.5" stroke="#000" stroke-width="5" />
<line x1="228.9" y1="3580.2" x2="243.0" y2="3580.2" stroke="#000" stroke-width="5.8" />
<text transform="translate(191.2,3592.4) scale(1,0.997)" font-size="47.60" font-weight="normal" fill="#000">0</text>
<line x1="228.9" y1="3221.1" x2="243.0" y2="3221.1" stroke="#000" stroke-width="5.8" />
<text transform="translate(164.8,3233.3) scale(1,0.997)" font-size="47.60" font-weight="normal" fill="#000">40</text>
<line x1="228.9" y1="2862.0" x2="243.0" y2="2862.0" stroke="#000" stroke-width="5.8" />
<text transform="translate(164.8,2874.2) scale(1,0.997)" font-size="47.60" font-weight="normal" fill="#000">80</text>
<rect x="281.5" y="2863.8" width="38.9" height="36.9" fill="#000"/>
<text transform="translate(332.9,2898.0) scale(1,1.041)" font-size="47.04" font-weight="normal" fill="#000">pre - HFS</text>
<rect x="282.4" y="2937.6" width="33.6" height="33.6" fill="none" stroke="#000" stroke-width="4"/>
<text transform="translate(331.9,2965.5) scale(1,1.017)" font-size="47.16" font-weight="normal" fill="#000">post - HFS</text>
<text transform="translate(401.7,3088.4) scale(1,0.951)" font-size="69.43" font-weight="normal" fill="#000">*</text>
<line x1="362.2" y1="3080.6" x2="474.7" y2="3080.6" stroke="#000" stroke-width="2.8" />
<text transform="translate(866.6,3085.8) scale(1,0.951)" font-size="69.43" font-weight="normal" fill="#000">*</text>
<line x1="833.0" y1="3077.5" x2="945.2" y2="3077.5" stroke="#000" stroke-width="2.8" />
<line x1="362.4" y1="3134.9" x2="476.0" y2="3580.0" stroke="#000" stroke-width="2.6" />
<line x1="359.4" y1="3212.5" x2="477.3" y2="3554.5" stroke="#000" stroke-width="2.6" />
<line x1="356.9" y1="3302.8" x2="477.3" y2="3503.4" stroke="#000" stroke-width="2.6" />
<line x1="358.5" y1="3376.8" x2="478.6" y2="3468.9" stroke="#000" stroke-width="2.6" />
<line x1="365.5" y1="3411.8" x2="477.3" y2="3531.5" stroke="#000" stroke-width="2.6" />
<line x1="355.2" y1="3540.7" x2="476.0" y2="3577.5" stroke="#000" stroke-width="2.6" />
<line x1="372.0" y1="3533.9" x2="476.0" y2="3577.5" stroke="#000" stroke-width="2.6" />
<rect x="348.1" y="3120.7" width="22.5" height="22.5" fill="#000"/>
<rect x="345.1" y="3198.2" width="22.5" height="22.5" fill="#000"/>
<rect x="342.6" y="3288.6" width="22.5" height="22.5" fill="#000"/>
<rect x="344.2" y="3362.6" width="22.5" height="22.5" fill="#000"/>
<rect x="351.2" y="3397.6" width="22.5" height="22.5" fill="#000"/>
<rect x="340.9" y="3526.4" width="22.5" height="22.5" fill="#000"/>
<rect x="357.8" y="3519.7" width="22.5" height="22.5" fill="#000"/>
<rect x="471.8" y="3460.4" width="18.3" height="18.3" fill="none" stroke="#000" stroke-width="2.2"/>
<rect x="477.4" y="3492.9" width="18.3" height="18.3" fill="none" stroke="#000" stroke-width="2.2"/>
<rect x="469.2" y="3524.4" width="18.3" height="18.3" fill="none" stroke="#000" stroke-width="2.2"/>
<rect x="467.6" y="3548.2" width="18.3" height="18.3" fill="none" stroke="#000" stroke-width="2.2"/>
<rect x="464.7" y="3570.0" width="18.3" height="18.3" fill="none" stroke="#000" stroke-width="2.2"/>
<rect x="469.5" y="3575.8" width="18.3" height="18.3" fill="none" stroke="#000" stroke-width="2.2"/>
<rect x="479.2" y="3574.0" width="18.3" height="18.3" fill="none" stroke="#000" stroke-width="2.2"/>
<line x1="834.8" y1="3161.0" x2="953.7" y2="3527.7" stroke="#000" stroke-width="2.6" />
<line x1="834.8" y1="3243.4" x2="952.0" y2="3557.0" stroke="#000" stroke-width="2.6" />
<line x1="834.8" y1="3301.7" x2="952.4" y2="3577.5" stroke="#000" stroke-width="2.6" />
<line x1="834.8" y1="3370.8" x2="952.4" y2="3577.5" stroke="#000" stroke-width="2.6" />
<line x1="834.8" y1="3457.7" x2="952.4" y2="3577.5" stroke="#000" stroke-width="2.6" />
<line x1="834.8" y1="3556.0" x2="952.4" y2="3577.5" stroke="#000" stroke-width="2.6" />
<line x1="834.8" y1="3579.8" x2="952.4" y2="3577.5" stroke="#000" stroke-width="2.6" />
<rect x="822.6" y="3150.2" width="21.7" height="21.7" fill="#ff0000"/>
<rect x="814.6" y="3232.6" width="21.7" height="21.7" fill="#ff0000"/>
<rect x="831.9" y="3290.8" width="21.7" height="21.7" fill="#ff0000"/>
<rect x="817.0" y="3360.0" width="21.7" height="21.7" fill="#ff0000"/>
<rect x="819.0" y="3446.8" width="21.7" height="21.7" fill="#ff0000"/>
<rect x="821.9" y="3545.2" width="21.7" height="21.7" fill="#ff0000"/>
<rect x="814.1" y="3569.0" width="21.7" height="21.7" fill="#ff0000"/>
<rect x="828.1" y="3569.0" width="21.7" height="21.7" fill="#ff0000"/>
<rect x="938.4" y="3517.8" width="18.3" height="18.3" fill="none" stroke="#ff0000" stroke-width="2.2"/>
<rect x="941.4" y="3547.9" width="18.3" height="18.3" fill="none" stroke="#ff0000" stroke-width="2.2"/>
<rect x="942.5" y="3570.7" width="18.3" height="18.3" fill="none" stroke="#ff0000" stroke-width="2.2"/>
<rect x="952.0" y="3570.7" width="18.3" height="18.3" fill="none" stroke="#ff0000" stroke-width="2.2"/>
<text transform="translate(298.2,3695.0) scale(1,0.986)" font-size="57.33" font-weight="bold" fill="#000">M1/M3-wt</text>
<text transform="translate(746.5,3695.0) scale(1,0.988)" font-size="57.22" font-weight="bold" fill="#ff0000">M1/M3-dKO</text>
<text transform="translate(145.5,3441.7) rotate(-90) scale(1,1.049)" font-size="57.73" font-weight="normal" fill="#000">Failure rate (%)</text>
<text transform="translate(1446.3,2771.1) scale(1,1.026)" font-size="100.61" font-weight="normal" fill="#000">F</text>
<text transform="translate(1627.7,2764.5) scale(1,0.995)" font-size="73.50" font-weight="normal" fill="#000" letter-spacing="1.47">long-term potentiation</text>
<line x1="1708.5" y1="2890.0" x2="1708.5" y2="3627.0" stroke="#000" stroke-width="5.8" />
<line x1="1692.4" y1="3624.2" x2="2697.5" y2="3624.2" stroke="#000" stroke-width="5" />
<line x1="1691.4" y1="3620.7" x2="1708.5" y2="3620.7" stroke="#000" stroke-width="5.8" />
<text transform="translate(1652.3,3634.7) scale(1,0.995)" font-size="46.00" font-weight="normal" fill="#000">0</text>
<line x1="1691.4" y1="3499.3" x2="1708.5" y2="3499.3" stroke="#000" stroke-width="5.8" />
<text transform="translate(1601.2,3513.3) scale(1,0.995)" font-size="46.00" font-weight="normal" fill="#000">200</text>
<line x1="1691.4" y1="3378.0" x2="1708.5" y2="3378.0" stroke="#000" stroke-width="5.8" />
<text transform="translate(1601.2,3392.0) scale(1,0.995)" font-size="46.00" font-weight="normal" fill="#000">400</text>
<line x1="1691.4" y1="3256.6" x2="1708.5" y2="3256.6" stroke="#000" stroke-width="5.8" />
<text transform="translate(1601.2,3270.6) scale(1,0.995)" font-size="46.00" font-weight="normal" fill="#000">600</text>
<line x1="1691.4" y1="3135.2" x2="1708.5" y2="3135.2" stroke="#000" stroke-width="5.8" />
<text transform="translate(1601.2,3149.2) scale(1,0.995)" font-size="46.00" font-weight="normal" fill="#000">800</text>
<line x1="1691.4" y1="3013.9" x2="1708.5" y2="3013.9" stroke="#000" stroke-width="5.8" />
<text transform="translate(1575.5,3027.9) scale(1,0.995)" font-size="46.00" font-weight="normal" fill="#000">1000</text>
<line x1="1691.4" y1="2892.5" x2="1708.5" y2="2892.5" stroke="#000" stroke-width="5.8" />
<text transform="translate(1575.5,2906.5) scale(1,0.995)" font-size="46.00" font-weight="normal" fill="#000">1200</text>
<line x1="1699.7" y1="3560.0" x2="1708.5" y2="3560.0" stroke="#000" stroke-width="5.5" />
<line x1="1699.7" y1="3438.7" x2="1708.5" y2="3438.7" stroke="#000" stroke-width="5.5" />
<line x1="1699.7" y1="3317.3" x2="1708.5" y2="3317.3" stroke="#000" stroke-width="5.5" />
<line x1="1699.7" y1="3195.9" x2="1708.5" y2="3195.9" stroke="#000" stroke-width="5.5" />
<line x1="1699.7" y1="3074.6" x2="1708.5" y2="3074.6" stroke="#000" stroke-width="5.5" />
<line x1="1699.7" y1="2953.2" x2="1708.5" y2="2953.2" stroke="#000" stroke-width="5.5" />
<line x1="1726.9" y1="3624.2" x2="1726.9" y2="3642.6" stroke="#000" stroke-width="5.5" />
<text transform="translate(1706.0,3690.5) scale(1,0.983)" font-size="46.00" font-weight="normal" fill="#000">-5</text>
<line x1="1913.0" y1="3624.2" x2="1913.0" y2="3642.6" stroke="#000" stroke-width="5.5" />
<text transform="translate(1900.5,3690.5) scale(1,0.983)" font-size="46.00" font-weight="normal" fill="#000">0</text>
<line x1="2099.1" y1="3624.2" x2="2099.1" y2="3642.6" stroke="#000" stroke-width="5.5" />
<text transform="translate(2086.8,3690.5) scale(1,0.983)" font-size="46.00" font-weight="normal" fill="#000">5</text>
<line x1="2285.2" y1="3624.2" x2="2285.2" y2="3642.6" stroke="#000" stroke-width="5.5" />
<text transform="translate(2261.5,3690.5) scale(1,0.983)" font-size="46.00" font-weight="normal" fill="#000">10</text>
<line x1="2471.3" y1="3624.2" x2="2471.3" y2="3642.6" stroke="#000" stroke-width="5.5" />
<text transform="translate(2445.7,3690.5) scale(1,0.983)" font-size="46.00" font-weight="normal" fill="#000">15</text>
<line x1="2657.4" y1="3624.2" x2="2657.4" y2="3642.6" stroke="#000" stroke-width="5.5" />
<text transform="translate(2631.0,3690.5) scale(1,0.983)" font-size="46.00" font-weight="normal" fill="#000">20</text>
<text transform="translate(2060.2,3764.0) scale(1,1.016)" font-size="67.89" font-weight="normal" fill="#000">Time (min)</text>
<text transform="translate(1552.1,3457.8) rotate(-90) scale(1,1.036)" font-size="59.32" font-weight="normal" fill="#000">MF-EPSC (%)</text>
<line x1="1708.0" y1="3563.7" x2="2664.6" y2="3563.7" stroke="#000" stroke-width="1.8" stroke-dasharray="9.5,8.8"/>
<path d="M1910.4,3565.8 L1926.0,3617.7 L1899.0,3617.7 Z" fill="#000"/>
<text transform="translate(1931.8,3612.4) scale(1,1.013)" font-size="46.40" font-weight="normal" fill="#000">HFS</text>
<text transform="translate(2553.4,3392.8) scale(1,0.865)" font-size="66.88" font-weight="bold" fill="#000">**</text>
<line x1="2511.8" y1="3387.1" x2="2655.1" y2="3387.1" stroke="#000" stroke-width="4.6" />
<rect x="1745.5" y="2867.9" width="35.7" height="30.9" fill="#000"/>
<text transform="translate(1794.0,2898.8) scale(1,1.023)" font-size="41.50" font-weight="normal" fill="#000" letter-spacing="0.94">M1/M3-wt (n = 7)</text>
<rect x="1745.5" y="2926.2" width="36.9" height="30.7" fill="#ff0000"/>
<text transform="translate(1794.0,2956.9) scale(1,1.016)" font-size="41.50" font-weight="normal" fill="#ff0000" letter-spacing="0.85">M1/M3-dKO (n = 8)</text>
<line x1="1726.9" y1="3553.0" x2="1726.9" y2="3571.0" stroke="#000" stroke-width="2.5" />
<line x1="1719.9" y1="3553.0" x2="1733.9" y2="3553.0" stroke="#000" stroke-width="3" />
<line x1="1719.9" y1="3571.0" x2="1733.9" y2="3571.0" stroke="#000" stroke-width="3" />
<rect x="1717.8" y="3552.8" width="18.3" height="18.3" fill="#000"/>
<line x1="1764.1" y1="3550.0" x2="1764.1" y2="3568.0" stroke="#000" stroke-width="2.5" />
<line x1="1757.1" y1="3550.0" x2="1771.1" y2="3550.0" stroke="#000" stroke-width="3" />
<line x1="1757.1" y1="3568.0" x2="1771.1" y2="3568.0" stroke="#000" stroke-width="3" />
<rect x="1755.0" y="3549.8" width="18.3" height="18.3" fill="#000"/>
<line x1="1801.3" y1="3549.0" x2="1801.3" y2="3567.0" stroke="#000" stroke-width="2.5" />
<line x1="1794.3" y1="3549.0" x2="1808.3" y2="3549.0" stroke="#000" stroke-width="3" />
<line x1="1794.3" y1="3567.0" x2="1808.3" y2="3567.0" stroke="#000" stroke-width="3" />
<rect x="1792.2" y="3548.8" width="18.3" height="18.3" fill="#000"/>
<line x1="1838.6" y1="3553.0" x2="1838.6" y2="3571.0" stroke="#000" stroke-width="2.5" />
<line x1="1831.6" y1="3553.0" x2="1845.6" y2="3553.0" stroke="#000" stroke-width="3" />
<line x1="1831.6" y1="3571.0" x2="1845.6" y2="3571.0" stroke="#000" stroke-width="3" />
<rect x="1829.4" y="3552.8" width="18.3" height="18.3" fill="#000"/>
<line x1="1875.8" y1="3554.0" x2="1875.8" y2="3572.0" stroke="#000" stroke-width="2.5" />
<line x1="1868.8" y1="3554.0" x2="1882.8" y2="3554.0" stroke="#000" stroke-width="3" />
<line x1="1868.8" y1="3572.0" x2="1882.8" y2="3572.0" stroke="#000" stroke-width="3" />
<rect x="1866.6" y="3553.8" width="18.3" height="18.3" fill="#000"/>
<line x1="1950.2" y1="3315.0" x2="1950.2" y2="3387.3" stroke="#000" stroke-width="3" />
<line x1="1942.2" y1="3315.0" x2="1958.2" y2="3315.0" stroke="#000" stroke-width="3.5" />
<line x1="1942.2" y1="3387.3" x2="1958.2" y2="3387.3" stroke="#000" stroke-width="3.5" />
<rect x="1941.1" y="3342.3" width="18.3" height="18.3" fill="#000"/>
<line x1="1987.4" y1="3393.9" x2="1987.4" y2="3445.0" stroke="#000" stroke-width="3" />
<line x1="1979.4" y1="3393.9" x2="1995.4" y2="3393.9" stroke="#000" stroke-width="3.5" />
<line x1="1979.4" y1="3445.0" x2="1995.4" y2="3445.0" stroke="#000" stroke-width="3.5" />
<rect x="1978.3" y="3409.2" width="18.3" height="18.3" fill="#000"/>
<line x1="2024.7" y1="3452.0" x2="2024.7" y2="3493.3" stroke="#000" stroke-width="3" />
<line x1="2016.7" y1="3452.0" x2="2032.7" y2="3452.0" stroke="#000" stroke-width="3.5" />
<line x1="2016.7" y1="3493.3" x2="2032.7" y2="3493.3" stroke="#000" stroke-width="3.5" />
<rect x="2015.5" y="3462.2" width="18.3" height="18.3" fill="#000"/>
<line x1="2061.9" y1="3467.9" x2="2061.9" y2="3498.8" stroke="#000" stroke-width="3" />
<line x1="2053.9" y1="3467.9" x2="2069.9" y2="3467.9" stroke="#000" stroke-width="3.5" />
<line x1="2053.9" y1="3498.8" x2="2069.9" y2="3498.8" stroke="#000" stroke-width="3.5" />
<rect x="2052.7" y="3473.2" width="18.3" height="18.3" fill="#000"/>
<line x1="2099.1" y1="3500.9" x2="2099.1" y2="3513.4" stroke="#000" stroke-width="3" />
<line x1="2091.1" y1="3500.9" x2="2107.1" y2="3500.9" stroke="#000" stroke-width="3.5" />
<line x1="2091.1" y1="3513.4" x2="2107.1" y2="3513.4" stroke="#000" stroke-width="3.5" />
<rect x="2089.9" y="3496.9" width="18.3" height="18.3" fill="#000"/>
<line x1="2136.3" y1="3493.3" x2="2136.3" y2="3521.8" stroke="#000" stroke-width="3" />
<line x1="2128.3" y1="3493.3" x2="2144.3" y2="3493.3" stroke="#000" stroke-width="3.5" />
<line x1="2128.3" y1="3521.8" x2="2144.3" y2="3521.8" stroke="#000" stroke-width="3.5" />
<rect x="2127.2" y="3496.9" width="18.3" height="18.3" fill="#000"/>
<line x1="2173.5" y1="3494.0" x2="2173.5" y2="3509.0" stroke="#000" stroke-width="3" />
<line x1="2165.5" y1="3494.0" x2="2181.5" y2="3494.0" stroke="#000" stroke-width="3.5" />
<line x1="2165.5" y1="3509.0" x2="2181.5" y2="3509.0" stroke="#000" stroke-width="3.5" />
<rect x="2164.4" y="3492.2" width="18.3" height="18.3" fill="#000"/>
<line x1="2210.8" y1="3498.0" x2="2210.8" y2="3512.0" stroke="#000" stroke-width="3" />
<line x1="2202.8" y1="3498.0" x2="2218.8" y2="3498.0" stroke="#000" stroke-width="3.5" />
<line x1="2202.8" y1="3512.0" x2="2218.8" y2="3512.0" stroke="#000" stroke-width="3.5" />
<rect x="2201.6" y="3495.8" width="18.3" height="18.3" fill="#000"/>
<line x1="2248.0" y1="3505.0" x2="2248.0" y2="3518.0" stroke="#000" stroke-width="3" />
<line x1="2240.0" y1="3505.0" x2="2256.0" y2="3505.0" stroke="#000" stroke-width="3.5" />
<line x1="2240.0" y1="3518.0" x2="2256.0" y2="3518.0" stroke="#000" stroke-width="3.5" />
<rect x="2238.8" y="3502.4" width="18.3" height="18.3" fill="#000"/>
<line x1="2285.2" y1="3501.3" x2="2285.2" y2="3524.6" stroke="#000" stroke-width="3" />
<line x1="2277.2" y1="3501.3" x2="2293.2" y2="3501.3" stroke="#000" stroke-width="3.5" />
<line x1="2277.2" y1="3524.6" x2="2293.2" y2="3524.6" stroke="#000" stroke-width="3.5" />
<rect x="2276.0" y="3502.2" width="18.3" height="18.3" fill="#000"/>
<line x1="2322.4" y1="3516.0" x2="2322.4" y2="3529.0" stroke="#000" stroke-width="3" />
<line x1="2314.4" y1="3516.0" x2="2330.4" y2="3516.0" stroke="#000" stroke-width="3.5" />
<line x1="2314.4" y1="3529.0" x2="2330.4" y2="3529.0" stroke="#000" stroke-width="3.5" />
<rect x="2313.3" y="3513.3" width="18.3" height="18.3" fill="#000"/>
<line x1="2359.6" y1="3520.0" x2="2359.6" y2="3534.0" stroke="#000" stroke-width="3" />
<line x1="2351.6" y1="3520.0" x2="2367.6" y2="3520.0" stroke="#000" stroke-width="3.5" />
<line x1="2351.6" y1="3534.0" x2="2367.6" y2="3534.0" stroke="#000" stroke-width="3.5" />
<rect x="2350.5" y="3518.2" width="18.3" height="18.3" fill="#000"/>
<line x1="2396.9" y1="3525.0" x2="2396.9" y2="3537.0" stroke="#000" stroke-width="3" />
<line x1="2388.9" y1="3525.0" x2="2404.9" y2="3525.0" stroke="#000" stroke-width="3.5" />
<line x1="2388.9" y1="3537.0" x2="2404.9" y2="3537.0" stroke="#000" stroke-width="3.5" />
<rect x="2387.7" y="3521.7" width="18.3" height="18.3" fill="#000"/>
<line x1="2434.1" y1="3531.0" x2="2434.1" y2="3542.0" stroke="#000" stroke-width="3" />
<line x1="2426.1" y1="3531.0" x2="2442.1" y2="3531.0" stroke="#000" stroke-width="3.5" />
<line x1="2426.1" y1="3542.0" x2="2442.1" y2="3542.0" stroke="#000" stroke-width="3.5" />
<rect x="2424.9" y="3527.5" width="18.3" height="18.3" fill="#000"/>
<line x1="2471.3" y1="3528.0" x2="2471.3" y2="3539.0" stroke="#000" stroke-width="3" />
<line x1="2463.3" y1="3528.0" x2="2479.3" y2="3528.0" stroke="#000" stroke-width="3.5" />
<line x1="2463.3" y1="3539.0" x2="2479.3" y2="3539.0" stroke="#000" stroke-width="3.5" />
<rect x="2462.2" y="3524.3" width="18.3" height="18.3" fill="#000"/>
<line x1="2508.5" y1="3533.0" x2="2508.5" y2="3543.0" stroke="#000" stroke-width="3" />
<line x1="2500.5" y1="3533.0" x2="2516.5" y2="3533.0" stroke="#000" stroke-width="3.5" />
<line x1="2500.5" y1="3543.0" x2="2516.5" y2="3543.0" stroke="#000" stroke-width="3.5" />
<rect x="2499.4" y="3528.8" width="18.3" height="18.3" fill="#000"/>
<line x1="2545.7" y1="3533.0" x2="2545.7" y2="3543.0" stroke="#000" stroke-width="3" />
<line x1="2537.7" y1="3533.0" x2="2553.7" y2="3533.0" stroke="#000" stroke-width="3.5" />
<line x1="2537.7" y1="3543.0" x2="2553.7" y2="3543.0" stroke="#000" stroke-width="3.5" />
<rect x="2536.6" y="3528.8" width="18.3" height="18.3" fill="#000"/>
<line x1="2583.0" y1="3533.0" x2="2583.0" y2="3543.0" stroke="#000" stroke-width="3" />
<line x1="2575.0" y1="3533.0" x2="2591.0" y2="3533.0" stroke="#000" stroke-width="3.5" />
<line x1="2575.0" y1="3543.0" x2="2591.0" y2="3543.0" stroke="#000" stroke-width="3.5" />
<rect x="2573.8" y="3528.8" width="18.3" height="18.3" fill="#000"/>
<line x1="2620.2" y1="3530.0" x2="2620.2" y2="3541.0" stroke="#000" stroke-width="3" />
<line x1="2612.2" y1="3530.0" x2="2628.2" y2="3530.0" stroke="#000" stroke-width="3.5" />
<line x1="2612.2" y1="3541.0" x2="2628.2" y2="3541.0" stroke="#000" stroke-width="3.5" />
<rect x="2611.0" y="3526.2" width="18.3" height="18.3" fill="#000"/>
<line x1="2657.4" y1="3526.0" x2="2657.4" y2="3538.0" stroke="#000" stroke-width="3" />
<line x1="2649.4" y1="3526.0" x2="2665.4" y2="3526.0" stroke="#000" stroke-width="3.5" />
<line x1="2649.4" y1="3538.0" x2="2665.4" y2="3538.0" stroke="#000" stroke-width="3.5" />
<rect x="2648.2" y="3522.8" width="18.3" height="18.3" fill="#000"/>
<rect x="1717.8" y="3554.8" width="18.3" height="18.3" fill="#ff0000"/>
<line x1="1718.9" y1="3562.0" x2="1734.9" y2="3562.0" stroke="#000" stroke-width="2" />
<line x1="1718.9" y1="3567.0" x2="1734.9" y2="3567.0" stroke="#000" stroke-width="2" />
<rect x="1755.0" y="3553.8" width="18.3" height="18.3" fill="#ff0000"/>
<line x1="1756.1" y1="3561.0" x2="1772.1" y2="3561.0" stroke="#000" stroke-width="2" />
<line x1="1756.1" y1="3566.0" x2="1772.1" y2="3566.0" stroke="#000" stroke-width="2" />
<rect x="1792.2" y="3550.8" width="18.3" height="18.3" fill="#ff0000"/>
<line x1="1793.3" y1="3558.0" x2="1809.3" y2="3558.0" stroke="#000" stroke-width="2" />
<line x1="1793.3" y1="3563.0" x2="1809.3" y2="3563.0" stroke="#000" stroke-width="2" />
<rect x="1829.4" y="3553.8" width="18.3" height="18.3" fill="#ff0000"/>
<line x1="1830.6" y1="3561.0" x2="1846.6" y2="3561.0" stroke="#000" stroke-width="2" />
<line x1="1830.6" y1="3566.0" x2="1846.6" y2="3566.0" stroke="#000" stroke-width="2" />
<rect x="1866.6" y="3553.8" width="18.3" height="18.3" fill="#ff0000"/>
<line x1="1867.8" y1="3561.0" x2="1883.8" y2="3561.0" stroke="#000" stroke-width="2" />
<line x1="1867.8" y1="3566.0" x2="1883.8" y2="3566.0" stroke="#000" stroke-width="2" />
<line x1="1950.2" y1="2995.7" x2="1950.2" y2="3156.0" stroke="#ff0000" stroke-width="3" />
<line x1="1941.7" y1="2995.7" x2="1958.7" y2="2995.7" stroke="#ff0000" stroke-width="3.5" />
<line x1="1941.7" y1="3156.0" x2="1958.7" y2="3156.0" stroke="#ff0000" stroke-width="3.5" />
<rect x="1941.1" y="3067.5" width="18.3" height="18.3" fill="#ff0000"/>
<line x1="1987.4" y1="3128.6" x2="1987.4" y2="3283.9" stroke="#ff0000" stroke-width="3" />
<line x1="1978.9" y1="3128.6" x2="1995.9" y2="3128.6" stroke="#ff0000" stroke-width="3.5" />
<line x1="1978.9" y1="3283.9" x2="1995.9" y2="3283.9" stroke="#ff0000" stroke-width="3.5" />
<rect x="1978.3" y="3197.3" width="18.3" height="18.3" fill="#ff0000"/>
<line x1="2024.7" y1="3174.3" x2="2024.7" y2="3330.7" stroke="#ff0000" stroke-width="3" />
<line x1="2016.2" y1="3174.3" x2="2033.2" y2="3174.3" stroke="#ff0000" stroke-width="3.5" />
<line x1="2016.2" y1="3330.7" x2="2033.2" y2="3330.7" stroke="#ff0000" stroke-width="3.5" />
<rect x="2015.5" y="3242.9" width="18.3" height="18.3" fill="#ff0000"/>
<line x1="2061.9" y1="3235.7" x2="2061.9" y2="3358.1" stroke="#ff0000" stroke-width="3" />
<line x1="2053.4" y1="3235.7" x2="2070.4" y2="3235.7" stroke="#ff0000" stroke-width="3.5" />
<line x1="2053.4" y1="3358.1" x2="2070.4" y2="3358.1" stroke="#ff0000" stroke-width="3.5" />
<rect x="2052.7" y="3286.8" width="18.3" height="18.3" fill="#ff0000"/>
<line x1="2099.1" y1="3260.2" x2="2099.1" y2="3394.6" stroke="#ff0000" stroke-width="3" />
<line x1="2090.6" y1="3260.2" x2="2107.6" y2="3260.2" stroke="#ff0000" stroke-width="3.5" />
<line x1="2090.6" y1="3394.6" x2="2107.6" y2="3394.6" stroke="#ff0000" stroke-width="3.5" />
<rect x="2089.9" y="3317.8" width="18.3" height="18.3" fill="#ff0000"/>
<line x1="2136.3" y1="3238.2" x2="2136.3" y2="3380.8" stroke="#ff0000" stroke-width="3" />
<line x1="2127.8" y1="3238.2" x2="2144.8" y2="3238.2" stroke="#ff0000" stroke-width="3.5" />
<line x1="2127.8" y1="3380.8" x2="2144.8" y2="3380.8" stroke="#ff0000" stroke-width="3.5" />
<rect x="2127.2" y="3299.7" width="18.3" height="18.3" fill="#ff0000"/>
<line x1="2173.5" y1="3250.3" x2="2173.5" y2="3378.2" stroke="#ff0000" stroke-width="3" />
<line x1="2165.0" y1="3250.3" x2="2182.0" y2="3250.3" stroke="#ff0000" stroke-width="3.5" />
<line x1="2165.0" y1="3378.2" x2="2182.0" y2="3378.2" stroke="#ff0000" stroke-width="3.5" />
<rect x="2164.4" y="3304.0" width="18.3" height="18.3" fill="#ff0000"/>
<line x1="2210.8" y1="3252.1" x2="2210.8" y2="3396.4" stroke="#ff0000" stroke-width="3" />
<line x1="2202.3" y1="3252.1" x2="2219.3" y2="3252.1" stroke="#ff0000" stroke-width="3.5" />
<line x1="2202.3" y1="3396.4" x2="2219.3" y2="3396.4" stroke="#ff0000" stroke-width="3.5" />
<rect x="2201.6" y="3315.3" width="18.3" height="18.3" fill="#ff0000"/>
<line x1="2248.0" y1="3263.8" x2="2248.0" y2="3389.2" stroke="#ff0000" stroke-width="3" />
<line x1="2239.5" y1="3263.8" x2="2256.5" y2="3263.8" stroke="#ff0000" stroke-width="3.5" />
<line x1="2239.5" y1="3389.2" x2="2256.5" y2="3389.2" stroke="#ff0000" stroke-width="3.5" />
<rect x="2238.8" y="3317.2" width="18.3" height="18.3" fill="#ff0000"/>
<line x1="2285.2" y1="3308.1" x2="2285.2" y2="3418.0" stroke="#ff0000" stroke-width="3" />
<line x1="2276.7" y1="3308.1" x2="2293.7" y2="3308.1" stroke="#ff0000" stroke-width="3.5" />
<line x1="2276.7" y1="3418.0" x2="2293.7" y2="3418.0" stroke="#ff0000" stroke-width="3.5" />
<rect x="2276.0" y="3353.3" width="18.3" height="18.3" fill="#ff0000"/>
<line x1="2322.4" y1="3345.1" x2="2322.4" y2="3419.3" stroke="#ff0000" stroke-width="3" />
<line x1="2313.9" y1="3345.1" x2="2330.9" y2="3345.1" stroke="#ff0000" stroke-width="3.5" />
<line x1="2313.9" y1="3419.3" x2="2330.9" y2="3419.3" stroke="#ff0000" stroke-width="3.5" />
<rect x="2313.3" y="3372.7" width="18.3" height="18.3" fill="#ff0000"/>
<line x1="2359.6" y1="3346.5" x2="2359.6" y2="3429.0" stroke="#ff0000" stroke-width="3" />
<line x1="2351.1" y1="3346.5" x2="2368.1" y2="3346.5" stroke="#ff0000" stroke-width="3.5" />
<line x1="2351.1" y1="3429.0" x2="2368.1" y2="3429.0" stroke="#ff0000" stroke-width="3.5" />
<rect x="2350.5" y="3378.0" width="18.3" height="18.3" fill="#ff0000"/>
<line x1="2396.9" y1="3373.8" x2="2396.9" y2="3446.4" stroke="#ff0000" stroke-width="3" />
<line x1="2388.4" y1="3373.8" x2="2405.4" y2="3373.8" stroke="#ff0000" stroke-width="3.5" />
<line x1="2388.4" y1="3446.4" x2="2405.4" y2="3446.4" stroke="#ff0000" stroke-width="3.5" />
<rect x="2387.7" y="3400.8" width="18.3" height="18.3" fill="#ff0000"/>
<line x1="2434.1" y1="3407.6" x2="2434.1" y2="3465.7" stroke="#ff0000" stroke-width="3" />
<line x1="2425.6" y1="3407.6" x2="2442.6" y2="3407.6" stroke="#ff0000" stroke-width="3.5" />
<line x1="2425.6" y1="3465.7" x2="2442.6" y2="3465.7" stroke="#ff0000" stroke-width="3.5" />
<rect x="2424.9" y="3426.2" width="18.3" height="18.3" fill="#ff0000"/>
<line x1="2471.3" y1="3406.0" x2="2471.3" y2="3449.1" stroke="#ff0000" stroke-width="3" />
<line x1="2462.8" y1="3406.0" x2="2479.8" y2="3406.0" stroke="#ff0000" stroke-width="3.5" />
<line x1="2462.8" y1="3449.1" x2="2479.8" y2="3449.1" stroke="#ff0000" stroke-width="3.5" />
<rect x="2462.2" y="3417.7" width="18.3" height="18.3" fill="#ff0000"/>
<line x1="2508.5" y1="3423.6" x2="2508.5" y2="3470.3" stroke="#ff0000" stroke-width="3" />
<line x1="2500.0" y1="3423.6" x2="2517.0" y2="3423.6" stroke="#ff0000" stroke-width="3.5" />
<line x1="2500.0" y1="3470.3" x2="2517.0" y2="3470.3" stroke="#ff0000" stroke-width="3.5" />
<rect x="2499.4" y="3436.4" width="18.3" height="18.3" fill="#ff0000"/>
<line x1="2545.7" y1="3430.3" x2="2545.7" y2="3480.4" stroke="#ff0000" stroke-width="3" />
<line x1="2537.2" y1="3430.3" x2="2554.2" y2="3430.3" stroke="#ff0000" stroke-width="3.5" />
<line x1="2537.2" y1="3480.4" x2="2554.2" y2="3480.4" stroke="#ff0000" stroke-width="3.5" />
<rect x="2536.6" y="3445.0" width="18.3" height="18.3" fill="#ff0000"/>
<line x1="2583.0" y1="3435.7" x2="2583.0" y2="3480.4" stroke="#ff0000" stroke-width="3" />
<line x1="2574.5" y1="3435.7" x2="2591.5" y2="3435.7" stroke="#ff0000" stroke-width="3.5" />
<line x1="2574.5" y1="3480.4" x2="2591.5" y2="3480.4" stroke="#ff0000" stroke-width="3.5" />
<rect x="2573.8" y="3448.5" width="18.3" height="18.3" fill="#ff0000"/>
<line x1="2620.2" y1="3440.2" x2="2620.2" y2="3480.4" stroke="#ff0000" stroke-width="3" />
<line x1="2611.7" y1="3440.2" x2="2628.7" y2="3440.2" stroke="#ff0000" stroke-width="3.5" />
<line x1="2611.7" y1="3480.4" x2="2628.7" y2="3480.4" stroke="#ff0000" stroke-width="3.5" />
<rect x="2611.0" y="3450.3" width="18.3" height="18.3" fill="#ff0000"/>
<line x1="2657.4" y1="3427.4" x2="2657.4" y2="3467.6" stroke="#ff0000" stroke-width="3" />
<line x1="2648.9" y1="3427.4" x2="2665.9" y2="3427.4" stroke="#ff0000" stroke-width="3.5" />
<line x1="2648.9" y1="3467.6" x2="2665.9" y2="3467.6" stroke="#ff0000" stroke-width="3.5" />
<rect x="2648.2" y="3437.8" width="18.3" height="18.3" fill="#ff0000"/>
</svg></body></html>
